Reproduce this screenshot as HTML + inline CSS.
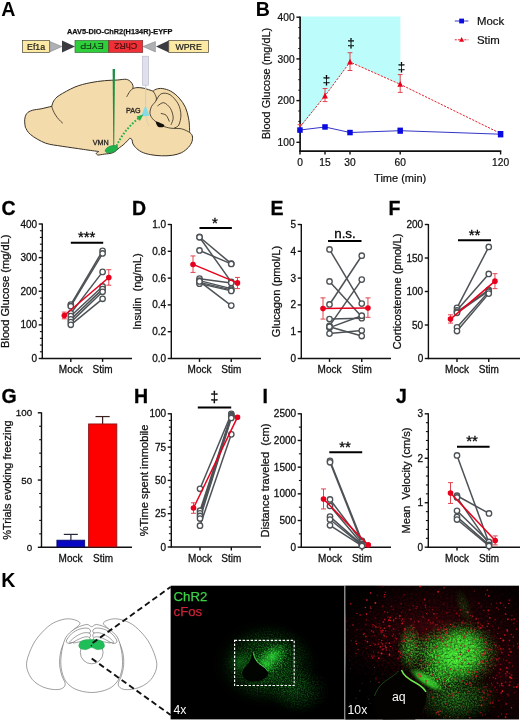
<!DOCTYPE html>
<html><head><meta charset="utf-8"><title>Figure</title>
<style>html,body{margin:0;padding:0;background:#fff}svg{display:block;opacity:0.999}</style>
</head><body>
<svg width="520" height="721" viewBox="0 0 520 721" font-family="'Liberation Sans', Arial, sans-serif">
<rect width="520" height="721" fill="#fff"/>
<g id="A">
<text x="1.3" y="16.3" font-size="19.6" font-weight="bold" fill="#000">A</text>
<text x="67" y="33.6" font-size="7.7" font-weight="bold" fill="#111" stroke="#111" stroke-width="0.25" textLength="105.5" lengthAdjust="spacingAndGlyphs">AAV5-DIO-ChR2(H134R)-EYFP</text>
<!-- construct -->
<rect x="22.6" y="40.6" width="27" height="11.8" fill="#fce9a4" stroke="#4a4536" stroke-width="0.7"/>
<text x="36.1" y="49.6" font-size="8.8" fill="#1a1a1a" stroke="#1a1a1a" stroke-width="0.2" text-anchor="middle">Ef1a</text>
<path d="M49.8 41.5 L61.9 46.5 L49.8 51.9z" fill="#aeb0b3" stroke="#77797c" stroke-width="0.5"/>
<path d="M62 40.4 L75 46.5 L62 52.6z" fill="#3a3a40"/>
<rect x="75" y="40.6" width="33.8" height="11.8" fill="#2ecf3b" stroke="#2a6a2e" stroke-width="0.7"/>
<text transform="translate(91.9,46.5) rotate(180)" x="0" y="3.2" font-size="9" fill="#123d16" stroke="#123d16" stroke-width="0.2" text-anchor="middle">EYFP</text>
<rect x="108.8" y="40.6" width="33.9" height="11.8" fill="#ef3036" stroke="#7a2a2a" stroke-width="0.7"/>
<text transform="translate(125.7,46.5) rotate(180)" x="0" y="3.2" font-size="9" fill="#4c1010" stroke="#4c1010" stroke-width="0.2" text-anchor="middle">ChR2</text>
<path d="M155.4 41.5 L143 46.5 L155.4 51.9z" fill="#aeb0b3" stroke="#77797c" stroke-width="0.5"/>
<path d="M168.8 40.4 L156 46.5 L168.8 52.6z" fill="#3a3a40"/>
<rect x="168.8" y="40.6" width="39.7" height="11.8" fill="#fce9a4" stroke="#4a4536" stroke-width="0.7"/>
<text x="188.6" y="49.6" font-size="8.8" fill="#1a1a1a" stroke="#1a1a1a" stroke-width="0.2" text-anchor="middle">WPRE</text>
<!-- brain -->
<path id="brainpath" d="M25.3 127.2 C25.2 126.0 24.4 122.1 24.7 119.8 C24.9 117.5 25.5 115.1 26.8 113.5 C28.0 111.9 29.9 111.1 32.3 110.3 C34.7 109.5 37.9 109.5 41.2 108.8 C44.4 108.1 50.0 106.7 51.7 106.3 C52.1 105.4 52.6 102.6 53.8 100.8 C55.1 99.0 55.6 97.8 59.1 95.5 C62.7 93.2 69.9 89.1 75.0 87.0 C80.1 84.9 84.9 83.8 89.8 82.8 C94.7 81.7 100.0 81.1 104.6 80.7 C109.2 80.2 113.7 80.3 117.3 80.0 C120.9 79.8 123.9 79.0 126.2 79.3 C128.4 79.6 129.6 80.9 130.8 81.9 C131.9 82.9 132.6 84.4 132.9 85.5 C133.3 86.6 132.9 88.0 132.9 88.5 C133.6 88.4 135.2 87.7 136.9 87.6 C138.6 87.5 140.9 87.7 143.1 88.1 C145.3 88.5 148.3 89.6 150.0 90.1 C151.7 90.6 152.6 91.0 153.1 91.2 C153.6 90.8 154.6 89.6 156.2 89.2 C157.7 88.7 159.9 88.2 162.3 88.5 C164.7 88.9 167.9 89.6 170.8 91.2 C173.6 92.7 176.8 95.4 179.2 98.1 C181.7 100.8 183.8 104.0 185.4 107.3 C186.9 110.6 187.8 114.7 188.5 118.1 C189.2 121.4 189.4 124.9 189.5 127.3 C189.7 129.7 189.5 131.4 189.5 132.2 C190.0 132.8 191.9 134.2 192.3 135.8 C192.7 137.3 192.6 139.5 192.0 141.5 C191.4 143.4 190.2 145.4 188.5 147.3 C186.7 149.2 184.2 151.4 181.5 152.7 C178.8 154.0 175.6 154.8 172.3 155.3 C169.0 155.8 165.1 155.9 161.5 155.8 C157.9 155.7 154.1 155.3 150.8 154.7 C147.4 154.1 144.1 153.2 141.5 151.9 C139.0 150.7 136.9 148.8 135.4 147.3 C133.9 145.8 133.2 144.3 132.6 143.0 C132.1 141.7 132.5 140.4 132.0 139.6 C131.5 138.8 130.2 138.3 129.8 138.1 C129.4 138.5 128.5 139.7 127.4 140.8 C126.3 142.0 124.4 143.9 123.1 145.0 C121.8 146.1 121.1 146.5 119.4 147.7 C117.8 149.0 115.6 151.5 113.1 152.6 C110.6 153.7 107.2 153.7 104.6 154.1 C102.1 154.5 99.0 155.0 97.9 155.1 C97.6 154.9 96.0 154.0 96.2 153.4 C96.3 152.8 98.3 151.9 98.7 151.5 C96.2 151.2 89.5 150.3 83.5 149.4 C77.4 148.5 68.7 147.3 62.3 146.3 C56.0 145.2 50.7 145.0 45.4 143.1 C40.1 141.1 33.9 137.3 30.6 134.6 C27.2 132.0 26.2 128.5 25.3 127.2Z" fill="#f3dbab" stroke="#3a3226" stroke-width="1" stroke-linejoin="round"/>
<g fill="none" stroke="#3a3226" stroke-width="0.85" stroke-linecap="round">
<path d="M51.7 106.3 C53 112 57 118.5 62.5 123"/>
<path d="M153.1 91.2 C153.5 91.9 155.2 94.2 155.7 95.8 C156.2 97.3 156.8 98.6 156.2 100.4 C155.5 102.2 152.6 104.4 151.5 106.5 C150.5 108.7 149.8 111.4 150.0 113.5 C150.2 115.5 151.5 117.4 152.6 118.8 C153.8 120.3 156.2 121.8 156.9 122.4"/>
<path d="M156.2 100.4 C157.0 99.3 158.9 94.7 161.2 93.8 C163.5 92.8 167.2 93.0 170.0 94.7 C172.8 96.4 176.3 100.5 178.2 103.9 C180.0 107.3 180.8 111.5 180.9 115.0 C181.0 118.5 179.9 122.8 178.8 125.0 C177.6 127.2 174.9 127.6 174.2 128.1"/>
<path d="M157.8 105.8 C158.8 105.3 161.7 102.2 163.8 102.7 C165.9 103.2 168.9 106.0 170.5 108.5 C172.0 111.1 173.1 115.1 173.2 117.8 C173.3 120.4 171.4 123.4 171.1 124.5"/>
<path d="M161.2 113.5 C162.1 113.8 164.8 114.0 166.2 115.3 C167.5 116.6 168.7 120.2 169.2 121.2"/>
<path d="M163.8 126.5 C165.0 126.8 167.8 127.8 170.8 128.2 C173.7 128.6 178.4 128.2 181.5 128.8 C184.7 129.5 188.2 131.7 189.5 132.2"/>
<path d="M132.9 88.5 C132.4 89.0 131.0 89.8 130.0 91.2 C129.0 92.5 127.4 95.6 126.9 96.5"/>
</g>
<path d="M155.8 121.6 C156.3 121.1 158.9 122.4 160.3 123.0 C161.7 123.6 163.9 124.4 164.3 125.2 C164.7 125.9 163.5 127.1 162.5 127.3 C161.4 127.5 158.9 127.3 157.8 126.4 C156.7 125.4 155.4 122.2 155.8 121.6Z" fill="#14110d"/>
<!-- optic fibre -->
<rect x="142.6" y="56.2" width="6" height="29" fill="#dfe0ec" stroke="#b4b5c6" stroke-width="0.6"/>
<path d="M145.6 85.2 V105" stroke="#c9cbd8" stroke-width="1.1" fill="none"/>
<path d="M146.2 116.2 C146.3 117.1 146.5 119.5 146.9 121.2 C147.4 122.8 148.6 125.3 148.9 126.1" stroke="#d5c8ae" stroke-width="0.7" fill="none"/>
<path d="M145.5 105.2 L149.4 115.5 C147 116.4 144 116.4 141.5 115.6 Z" fill="#84dbe6"/>
<!-- needle -->
<path d="M112.6 69 H115 L114.2 146 H113.3 Z" fill="#1d8e45"/>
<!-- VMN -->
<ellipse cx="111.5" cy="149.2" rx="6.6" ry="3.3" transform="rotate(-18 111.5 149.2)" fill="#20b24b" stroke="#14803a" stroke-width="0.5"/>
<path d="M116.5 146 C122 134 130 125 139.5 117.5" fill="none" stroke="#22b04a" stroke-width="2" stroke-dasharray="1.7 1.7"/>
<path d="M143.4 114.6 L139.9 121 L136.6 116.4 Z" fill="#22b04a"/>
<text x="125.9" y="113.3" font-size="7.2" fill="#2a2622" stroke="#2a2622" stroke-width="0.3">PAG</text>
<text x="92.8" y="145" font-size="7.2" fill="#2a2622" stroke="#2a2622" stroke-width="0.3">VMN</text>
</g>

<g id="B">
<text x="255.8" y="16" font-size="19.6" font-weight="bold" fill="#000">B</text>
<!-- cyan stimulation window -->
<polygon points="300.6,16.5 400.4,16.5 400.4,84 350,61.8 325,95.6 300.6,127.5" fill="#bcfcfb"/>
<!-- axes -->
<line x1="300.1" y1="16.5" x2="300.1" y2="152" stroke="#111" stroke-width="1.7"/>
<line x1="299.3" y1="151.2" x2="501.3" y2="151.2" stroke="#111" stroke-width="1.7"/>
<g stroke="#111" stroke-width="1.4">
<line x1="296.4" y1="17.2" x2="300" y2="17.2"/><line x1="296.4" y1="58.9" x2="300" y2="58.9"/>
<line x1="296.4" y1="100.6" x2="300" y2="100.6"/><line x1="296.4" y1="142.3" x2="300" y2="142.3"/>
<g stroke-width="0.9"><line x1="298.2" y1="27.6" x2="300" y2="27.6"/><line x1="298.2" y1="38" x2="300" y2="38"/><line x1="298.2" y1="48.5" x2="300" y2="48.5"/><line x1="298.2" y1="69.3" x2="300" y2="69.3"/><line x1="298.2" y1="79.7" x2="300" y2="79.7"/><line x1="298.2" y1="90.2" x2="300" y2="90.2"/><line x1="298.2" y1="111" x2="300" y2="111"/><line x1="298.2" y1="121.4" x2="300" y2="121.4"/><line x1="298.2" y1="131.9" x2="300" y2="131.9"/></g>
<line x1="300" y1="151.4" x2="300" y2="154.5"/><line x1="325" y1="151.4" x2="325" y2="154.5"/>
<line x1="350" y1="151.4" x2="350" y2="154.5"/><line x1="400.2" y1="151.4" x2="400.2" y2="154.5"/>
<line x1="500.6" y1="151.4" x2="500.6" y2="154.5"/>
</g>
<g font-size="10.2" fill="#111" stroke="#111" stroke-width="0.22" text-anchor="end">
<text x="294.6" y="20.9">400</text><text x="294.6" y="62.6">300</text><text x="294.6" y="104.3">200</text><text x="294.6" y="146">100</text>
</g>
<g font-size="10.2" fill="#111" stroke="#111" stroke-width="0.22" text-anchor="middle">
<text x="300" y="166">0</text><text x="325" y="166">15</text><text x="350" y="166">30</text><text x="400.2" y="166">60</text><text x="500.6" y="166">120</text>
</g>
<text x="400.2" y="181.6" font-size="11" fill="#111" stroke="#111" stroke-width="0.22" text-anchor="middle">Time (min)</text>
<text transform="translate(270,83.5) rotate(-90)" font-size="10.9" fill="#111" stroke="#111" stroke-width="0.22" text-anchor="middle">Blood Glucose (mg/dL)</text>
<!-- stim series -->
<polyline points="300,126.8 325,95.9 350,62 400.2,84.3 500.6,133.5" fill="none" stroke="#e0202a" stroke-width="1" stroke-dasharray="2.2 1.3"/>
<g stroke="#e0444f" stroke-width="1">
<line x1="300" y1="124.7" x2="300" y2="130"/><line x1="297.6" y1="124.7" x2="302.4" y2="124.7"/>
<line x1="325" y1="88.5" x2="325" y2="101.6"/><line x1="322.6" y1="88.5" x2="327.4" y2="88.5"/><line x1="322.6" y1="101.6" x2="327.4" y2="101.6"/>
<line x1="350" y1="52.7" x2="350" y2="70.5"/><line x1="347.6" y1="52.7" x2="352.4" y2="52.7"/><line x1="347.6" y1="70.5" x2="352.4" y2="70.5"/>
<line x1="400.2" y1="74.6" x2="400.2" y2="92.4"/><line x1="397.8" y1="74.6" x2="402.6" y2="74.6"/><line x1="397.8" y1="92.4" x2="402.6" y2="92.4"/>
</g>
<g fill="#e8001c">
<path d="M325 92.6 l2.9 5.8 h-5.8z"/><path d="M350 58.7 l2.9 5.8 h-5.8z"/><path d="M400.2 81 l2.9 5.8 h-5.8z"/>
</g>
<!-- mock series -->
<polyline points="300,130 325,127 350,132.5 400.2,130.7 500.6,134.2" fill="none" stroke="#3535c8" stroke-width="1"/>
<g fill="#0b0be0">
<rect x="297.2" y="127.3" width="5.5" height="5.5"/><rect x="322.25" y="124.2" width="5.5" height="5.5"/>
<rect x="347.25" y="129.8" width="5.5" height="5.5"/><rect x="397.45" y="127.6" width="5.5" height="6.2"/>
<rect x="497.85" y="131" width="5.5" height="6.4"/>
</g>
<!-- daggers -->
<g font-size="13.5" fill="#000" stroke="#000" stroke-width="0.2" text-anchor="middle">
<text x="326.6" y="83.6">‡</text><text x="351" y="47.4">‡</text><text x="401.6" y="70.5">‡</text>
</g>
<!-- legend -->
<line x1="454.8" y1="21" x2="468.4" y2="21" stroke="#3535c8" stroke-width="1"/>
<rect x="459.2" y="18.6" width="4.8" height="4.8" fill="#0b0be0"/>
<text x="477" y="25" font-size="11.4" fill="#111" stroke="#111" stroke-width="0.22">Mock</text>
<line x1="454.8" y1="39.8" x2="468.4" y2="39.8" stroke="#e0202a" stroke-width="1" stroke-dasharray="2 1.2"/>
<path d="M461.6 37 l2.5 4.8 h-5z" fill="#e8001c"/>
<text x="477" y="43.8" font-size="11.4" fill="#111" stroke="#111" stroke-width="0.22">Stim</text>
</g>

<g id="C">
<text x="1.5" y="214.5" font-size="19.5" text-anchor="start" font-weight="bold" fill="#000" stroke="#000" stroke-width="0.28" >C</text>
<line x1="42.3" y1="223.5" x2="42.3" y2="359.1" stroke="#111" stroke-width="1.4" />
<line x1="41.699999999999996" y1="358.5" x2="132" y2="358.5" stroke="#111" stroke-width="1.4" />
<line x1="38.699999999999996" y1="358.5" x2="42.3" y2="358.5" stroke="#111" stroke-width="1.4" />
<text x="37.099999999999994" y="362.0" font-size="10" text-anchor="end" font-weight="normal" fill="#111" stroke="#111" stroke-width="0.28" >0</text>
<line x1="38.699999999999996" y1="324.875" x2="42.3" y2="324.875" stroke="#111" stroke-width="1.4" />
<text x="37.099999999999994" y="328.375" font-size="10" text-anchor="end" font-weight="normal" fill="#111" stroke="#111" stroke-width="0.28" >100</text>
<line x1="38.699999999999996" y1="291.25" x2="42.3" y2="291.25" stroke="#111" stroke-width="1.4" />
<text x="37.099999999999994" y="294.75" font-size="10" text-anchor="end" font-weight="normal" fill="#111" stroke="#111" stroke-width="0.28" >200</text>
<line x1="38.699999999999996" y1="257.625" x2="42.3" y2="257.625" stroke="#111" stroke-width="1.4" />
<text x="37.099999999999994" y="261.125" font-size="10" text-anchor="end" font-weight="normal" fill="#111" stroke="#111" stroke-width="0.28" >300</text>
<line x1="38.699999999999996" y1="224.0" x2="42.3" y2="224.0" stroke="#111" stroke-width="1.4" />
<text x="37.099999999999994" y="227.5" font-size="10" text-anchor="end" font-weight="normal" fill="#111" stroke="#111" stroke-width="0.28" >400</text>
<line x1="39.9" y1="351.775" x2="42.3" y2="351.775" stroke="#111" stroke-width="1.1" />
<line x1="39.9" y1="345.05" x2="42.3" y2="345.05" stroke="#111" stroke-width="1.1" />
<line x1="39.9" y1="338.325" x2="42.3" y2="338.325" stroke="#111" stroke-width="1.1" />
<line x1="39.9" y1="331.6" x2="42.3" y2="331.6" stroke="#111" stroke-width="1.1" />
<line x1="39.9" y1="318.15" x2="42.3" y2="318.15" stroke="#111" stroke-width="1.1" />
<line x1="39.9" y1="311.425" x2="42.3" y2="311.425" stroke="#111" stroke-width="1.1" />
<line x1="39.9" y1="304.7" x2="42.3" y2="304.7" stroke="#111" stroke-width="1.1" />
<line x1="39.9" y1="297.975" x2="42.3" y2="297.975" stroke="#111" stroke-width="1.1" />
<line x1="39.9" y1="284.525" x2="42.3" y2="284.525" stroke="#111" stroke-width="1.1" />
<line x1="39.9" y1="277.8" x2="42.3" y2="277.8" stroke="#111" stroke-width="1.1" />
<line x1="39.9" y1="271.075" x2="42.3" y2="271.075" stroke="#111" stroke-width="1.1" />
<line x1="39.9" y1="264.35" x2="42.3" y2="264.35" stroke="#111" stroke-width="1.1" />
<line x1="39.9" y1="250.89999999999998" x2="42.3" y2="250.89999999999998" stroke="#111" stroke-width="1.1" />
<line x1="39.9" y1="244.175" x2="42.3" y2="244.175" stroke="#111" stroke-width="1.1" />
<line x1="39.9" y1="237.45" x2="42.3" y2="237.45" stroke="#111" stroke-width="1.1" />
<line x1="39.9" y1="230.72500000000002" x2="42.3" y2="230.72500000000002" stroke="#111" stroke-width="1.1" />
<line x1="70.8" y1="358.5" x2="70.8" y2="361.9" stroke="#111" stroke-width="1.4" />
<line x1="102.6" y1="358.5" x2="102.6" y2="361.9" stroke="#111" stroke-width="1.4" />
<text x="70.8" y="373.0" font-size="10" text-anchor="middle" font-weight="normal" fill="#111" stroke="#111" stroke-width="0.28" >Mock</text>
<text x="102.6" y="373.0" font-size="10" text-anchor="middle" font-weight="normal" fill="#111" stroke="#111" stroke-width="0.28" >Stim</text>
<text transform="translate(9.4,291.25) rotate(-90)" font-size="11.1" text-anchor="middle" fill="#111" stroke="#111" stroke-width="0.28" >Blood Glucose (mg/dL)</text>
<line x1="70.8" y1="304.599125" x2="102.6" y2="250.7655" stroke="#4d5256" stroke-width="1.5" />
<line x1="70.8" y1="306.213125" x2="102.6" y2="253.45550000000003" stroke="#4d5256" stroke-width="1.5" />
<line x1="70.8" y1="313.341625" x2="102.6" y2="271.882" stroke="#4d5256" stroke-width="1.5" />
<line x1="70.8" y1="316.031625" x2="102.6" y2="286.441625" stroke="#4d5256" stroke-width="1.5" />
<line x1="70.8" y1="319.394125" x2="102.6" y2="289.131625" stroke="#4d5256" stroke-width="1.5" />
<line x1="70.8" y1="322.084125" x2="102.6" y2="291.821625" stroke="#4d5256" stroke-width="1.5" />
<line x1="70.8" y1="324.80775" x2="102.6" y2="298.815625" stroke="#4d5256" stroke-width="1.5" />
<circle cx="70.8" cy="304.60" r="2.7" fill="#fff" stroke="#4d5256" stroke-width="1.35"/>
<circle cx="102.6" cy="250.77" r="2.7" fill="#fff" stroke="#4d5256" stroke-width="1.35"/>
<circle cx="70.8" cy="306.21" r="2.7" fill="#fff" stroke="#4d5256" stroke-width="1.35"/>
<circle cx="102.6" cy="253.46" r="2.7" fill="#fff" stroke="#4d5256" stroke-width="1.35"/>
<circle cx="70.8" cy="313.34" r="2.7" fill="#fff" stroke="#4d5256" stroke-width="1.35"/>
<circle cx="102.6" cy="271.88" r="2.7" fill="#fff" stroke="#4d5256" stroke-width="1.35"/>
<circle cx="70.8" cy="316.03" r="2.7" fill="#fff" stroke="#4d5256" stroke-width="1.35"/>
<circle cx="102.6" cy="286.44" r="2.7" fill="#fff" stroke="#4d5256" stroke-width="1.35"/>
<circle cx="70.8" cy="319.39" r="2.7" fill="#fff" stroke="#4d5256" stroke-width="1.35"/>
<circle cx="102.6" cy="289.13" r="2.7" fill="#fff" stroke="#4d5256" stroke-width="1.35"/>
<circle cx="70.8" cy="322.08" r="2.7" fill="#fff" stroke="#4d5256" stroke-width="1.35"/>
<circle cx="102.6" cy="291.82" r="2.7" fill="#fff" stroke="#4d5256" stroke-width="1.35"/>
<circle cx="70.8" cy="324.81" r="2.7" fill="#fff" stroke="#4d5256" stroke-width="1.35"/>
<circle cx="102.6" cy="298.82" r="2.7" fill="#fff" stroke="#4d5256" stroke-width="1.35"/>
<line x1="64.3" y1="315.46" x2="108.8" y2="277.46375" stroke="#e8001c" stroke-width="1.5" />
<line x1="64.3" y1="318.8225" x2="64.3" y2="312.0975" stroke="#e0444f" stroke-width="1" />
<line x1="61.8" y1="318.8225" x2="66.8" y2="318.8225" stroke="#e0444f" stroke-width="1" />
<line x1="61.8" y1="312.0975" x2="66.8" y2="312.0975" stroke="#e0444f" stroke-width="1" />
<circle cx="64.3" cy="315.46" r="2.8" fill="#e8001c"/>
<line x1="108.8" y1="285.1975" x2="108.8" y2="269.73" stroke="#e0444f" stroke-width="1" />
<line x1="106.3" y1="285.1975" x2="111.3" y2="285.1975" stroke="#e0444f" stroke-width="1" />
<line x1="106.3" y1="269.73" x2="111.3" y2="269.73" stroke="#e0444f" stroke-width="1" />
<circle cx="108.8" cy="277.46" r="2.8" fill="#e8001c"/>
<line x1="70.8" y1="242.7" x2="103.19999999999999" y2="242.7" stroke="#000" stroke-width="1.9" />
<text x="86.69999999999999" y="242.2" font-size="15" text-anchor="middle" font-weight="normal" fill="#000" stroke="#000" stroke-width="0.28" >***</text>
</g>
<g id="D">
<text x="132" y="214.5" font-size="19.5" text-anchor="start" font-weight="bold" fill="#000" stroke="#000" stroke-width="0.28" >D</text>
<line x1="171.3" y1="224.0" x2="171.3" y2="359.1" stroke="#111" stroke-width="1.4" />
<line x1="170.70000000000002" y1="358.5" x2="261" y2="358.5" stroke="#111" stroke-width="1.4" />
<line x1="167.70000000000002" y1="358.5" x2="171.3" y2="358.5" stroke="#111" stroke-width="1.4" />
<text x="166.10000000000002" y="362.0" font-size="10" text-anchor="end" font-weight="normal" fill="#111" stroke="#111" stroke-width="0.28" >0.0</text>
<line x1="167.70000000000002" y1="331.7" x2="171.3" y2="331.7" stroke="#111" stroke-width="1.4" />
<text x="166.10000000000002" y="335.2" font-size="10" text-anchor="end" font-weight="normal" fill="#111" stroke="#111" stroke-width="0.28" >0.2</text>
<line x1="167.70000000000002" y1="304.9" x2="171.3" y2="304.9" stroke="#111" stroke-width="1.4" />
<text x="166.10000000000002" y="308.4" font-size="10" text-anchor="end" font-weight="normal" fill="#111" stroke="#111" stroke-width="0.28" >0.4</text>
<line x1="167.70000000000002" y1="278.1" x2="171.3" y2="278.1" stroke="#111" stroke-width="1.4" />
<text x="166.10000000000002" y="281.6" font-size="10" text-anchor="end" font-weight="normal" fill="#111" stroke="#111" stroke-width="0.28" >0.6</text>
<line x1="167.70000000000002" y1="251.3" x2="171.3" y2="251.3" stroke="#111" stroke-width="1.4" />
<text x="166.10000000000002" y="254.8" font-size="10" text-anchor="end" font-weight="normal" fill="#111" stroke="#111" stroke-width="0.28" >0.8</text>
<line x1="167.70000000000002" y1="224.5" x2="171.3" y2="224.5" stroke="#111" stroke-width="1.4" />
<text x="166.10000000000002" y="228.0" font-size="10" text-anchor="end" font-weight="normal" fill="#111" stroke="#111" stroke-width="0.28" >1.0</text>
<line x1="199.5" y1="358.5" x2="199.5" y2="361.9" stroke="#111" stroke-width="1.4" />
<line x1="231.25" y1="358.5" x2="231.25" y2="361.9" stroke="#111" stroke-width="1.4" />
<text x="199.5" y="373.0" font-size="10" text-anchor="middle" font-weight="normal" fill="#111" stroke="#111" stroke-width="0.28" >Mock</text>
<text x="231.25" y="373.0" font-size="10" text-anchor="middle" font-weight="normal" fill="#111" stroke="#111" stroke-width="0.28" >Stim</text>
<text transform="translate(140.5,291.5) rotate(-90)" font-size="11.1" text-anchor="middle" fill="#111" stroke="#111" stroke-width="0.28" >Insulin  (ng/mL)</text>
<line x1="199.5" y1="236.97672253258844" x2="231.25" y2="263.67690875232773" stroke="#4d5256" stroke-width="1.5" />
<line x1="199.5" y1="237.2761638733706" x2="231.25" y2="281.8929236499069" stroke="#4d5256" stroke-width="1.5" />
<line x1="199.5" y1="250.451582867784" x2="231.25" y2="263.9264432029795" stroke="#4d5256" stroke-width="1.5" />
<line x1="199.5" y1="278.6489757914339" x2="231.25" y2="282.89106145251395" stroke="#4d5256" stroke-width="1.5" />
<line x1="199.5" y1="280.64525139664806" x2="231.25" y2="288.63035381750467" stroke="#4d5256" stroke-width="1.5" />
<line x1="199.5" y1="282.3919925512104" x2="231.25" y2="289.8780260707635" stroke="#4d5256" stroke-width="1.5" />
<line x1="199.5" y1="283.63966480446925" x2="231.25" y2="290.8761638733706" stroke="#4d5256" stroke-width="1.5" />
<line x1="199.5" y1="281.39385474860336" x2="231.25" y2="305.59869646182494" stroke="#4d5256" stroke-width="1.5" />
<circle cx="199.5" cy="236.98" r="2.7" fill="#fff" stroke="#4d5256" stroke-width="1.35"/>
<circle cx="231.25" cy="263.68" r="2.7" fill="#fff" stroke="#4d5256" stroke-width="1.35"/>
<circle cx="199.5" cy="237.28" r="2.7" fill="#fff" stroke="#4d5256" stroke-width="1.35"/>
<circle cx="231.25" cy="281.89" r="2.7" fill="#fff" stroke="#4d5256" stroke-width="1.35"/>
<circle cx="199.5" cy="250.45" r="2.7" fill="#fff" stroke="#4d5256" stroke-width="1.35"/>
<circle cx="231.25" cy="263.93" r="2.7" fill="#fff" stroke="#4d5256" stroke-width="1.35"/>
<circle cx="199.5" cy="278.65" r="2.7" fill="#fff" stroke="#4d5256" stroke-width="1.35"/>
<circle cx="231.25" cy="282.89" r="2.7" fill="#fff" stroke="#4d5256" stroke-width="1.35"/>
<circle cx="199.5" cy="280.65" r="2.7" fill="#fff" stroke="#4d5256" stroke-width="1.35"/>
<circle cx="231.25" cy="288.63" r="2.7" fill="#fff" stroke="#4d5256" stroke-width="1.35"/>
<circle cx="199.5" cy="282.39" r="2.7" fill="#fff" stroke="#4d5256" stroke-width="1.35"/>
<circle cx="231.25" cy="289.88" r="2.7" fill="#fff" stroke="#4d5256" stroke-width="1.35"/>
<circle cx="199.5" cy="283.64" r="2.7" fill="#fff" stroke="#4d5256" stroke-width="1.35"/>
<circle cx="231.25" cy="290.88" r="2.7" fill="#fff" stroke="#4d5256" stroke-width="1.35"/>
<circle cx="199.5" cy="281.39" r="2.7" fill="#fff" stroke="#4d5256" stroke-width="1.35"/>
<circle cx="231.25" cy="305.60" r="2.7" fill="#fff" stroke="#4d5256" stroke-width="1.35"/>
<line x1="193.0" y1="264.42551210428303" x2="237.45" y2="282.89106145251395" stroke="#e8001c" stroke-width="1.5" />
<line x1="193.0" y1="272.41061452513964" x2="193.0" y2="255.9413407821229" stroke="#e0444f" stroke-width="1" />
<line x1="190.5" y1="272.41061452513964" x2="195.5" y2="272.41061452513964" stroke="#e0444f" stroke-width="1" />
<line x1="190.5" y1="255.9413407821229" x2="195.5" y2="255.9413407821229" stroke="#e0444f" stroke-width="1" />
<circle cx="193.0" cy="264.43" r="2.8" fill="#e8001c"/>
<line x1="237.45" y1="288.63035381750467" x2="237.45" y2="277.40130353817506" stroke="#e0444f" stroke-width="1" />
<line x1="234.95" y1="288.63035381750467" x2="239.95" y2="288.63035381750467" stroke="#e0444f" stroke-width="1" />
<line x1="234.95" y1="277.40130353817506" x2="239.95" y2="277.40130353817506" stroke="#e0444f" stroke-width="1" />
<circle cx="237.45" cy="282.89" r="2.8" fill="#e8001c"/>
<line x1="199.5" y1="228" x2="231.85" y2="228" stroke="#000" stroke-width="1.9" />
<text x="214.9" y="228.4" font-size="15" text-anchor="middle" font-weight="normal" fill="#000" stroke="#000" stroke-width="0.28" >*</text>
</g>
<g id="E">
<text x="270.5" y="214.5" font-size="19.5" text-anchor="start" font-weight="bold" fill="#000" stroke="#000" stroke-width="0.28" >E</text>
<line x1="301.3" y1="224.0" x2="301.3" y2="359.1" stroke="#111" stroke-width="1.4" />
<line x1="300.7" y1="358.5" x2="391" y2="358.5" stroke="#111" stroke-width="1.4" />
<line x1="297.7" y1="358.5" x2="301.3" y2="358.5" stroke="#111" stroke-width="1.4" />
<text x="296.1" y="362.0" font-size="10" text-anchor="end" font-weight="normal" fill="#111" stroke="#111" stroke-width="0.28" >0</text>
<line x1="297.7" y1="331.7" x2="301.3" y2="331.7" stroke="#111" stroke-width="1.4" />
<text x="296.1" y="335.2" font-size="10" text-anchor="end" font-weight="normal" fill="#111" stroke="#111" stroke-width="0.28" >1</text>
<line x1="297.7" y1="304.9" x2="301.3" y2="304.9" stroke="#111" stroke-width="1.4" />
<text x="296.1" y="308.4" font-size="10" text-anchor="end" font-weight="normal" fill="#111" stroke="#111" stroke-width="0.28" >2</text>
<line x1="297.7" y1="278.1" x2="301.3" y2="278.1" stroke="#111" stroke-width="1.4" />
<text x="296.1" y="281.6" font-size="10" text-anchor="end" font-weight="normal" fill="#111" stroke="#111" stroke-width="0.28" >3</text>
<line x1="297.7" y1="251.3" x2="301.3" y2="251.3" stroke="#111" stroke-width="1.4" />
<text x="296.1" y="254.8" font-size="10" text-anchor="end" font-weight="normal" fill="#111" stroke="#111" stroke-width="0.28" >4</text>
<line x1="297.7" y1="224.5" x2="301.3" y2="224.5" stroke="#111" stroke-width="1.4" />
<text x="296.1" y="228.0" font-size="10" text-anchor="end" font-weight="normal" fill="#111" stroke="#111" stroke-width="0.28" >5</text>
<line x1="329.5" y1="358.5" x2="329.5" y2="361.9" stroke="#111" stroke-width="1.4" />
<line x1="361.75" y1="358.5" x2="361.75" y2="361.9" stroke="#111" stroke-width="1.4" />
<text x="329.5" y="373.0" font-size="10" text-anchor="middle" font-weight="normal" fill="#111" stroke="#111" stroke-width="0.28" >Mock</text>
<text x="361.75" y="373.0" font-size="10" text-anchor="middle" font-weight="normal" fill="#111" stroke="#111" stroke-width="0.28" >Stim</text>
<text transform="translate(279.8,291.5) rotate(-90)" font-size="11.1" text-anchor="middle" fill="#111" stroke="#111" stroke-width="0.28" >Glucagon (pmol/L)</text>
<line x1="329.5" y1="249.45080000000002" x2="361.75" y2="303.6136" stroke="#4d5256" stroke-width="1.5" />
<line x1="329.5" y1="281.4768" x2="361.75" y2="316.8528" stroke="#4d5256" stroke-width="1.5" />
<line x1="329.5" y1="304.4712" x2="361.75" y2="255.72199999999998" stroke="#4d5256" stroke-width="1.5" />
<line x1="329.5" y1="325.8844" x2="361.75" y2="279.6008" stroke="#4d5256" stroke-width="1.5" />
<line x1="329.5" y1="319.0504" x2="361.75" y2="318.166" stroke="#4d5256" stroke-width="1.5" />
<line x1="329.5" y1="327.6264" x2="361.75" y2="315.7004" stroke="#4d5256" stroke-width="1.5" />
<line x1="329.5" y1="326.742" x2="361.75" y2="336.0684" stroke="#4d5256" stroke-width="1.5" />
<line x1="329.5" y1="333.6028" x2="361.75" y2="330.5476" stroke="#4d5256" stroke-width="1.5" />
<circle cx="329.5" cy="249.45" r="2.7" fill="#fff" stroke="#4d5256" stroke-width="1.35"/>
<circle cx="361.75" cy="303.61" r="2.7" fill="#fff" stroke="#4d5256" stroke-width="1.35"/>
<circle cx="329.5" cy="281.48" r="2.7" fill="#fff" stroke="#4d5256" stroke-width="1.35"/>
<circle cx="361.75" cy="316.85" r="2.7" fill="#fff" stroke="#4d5256" stroke-width="1.35"/>
<circle cx="329.5" cy="304.47" r="2.7" fill="#fff" stroke="#4d5256" stroke-width="1.35"/>
<circle cx="361.75" cy="255.72" r="2.7" fill="#fff" stroke="#4d5256" stroke-width="1.35"/>
<circle cx="329.5" cy="325.88" r="2.7" fill="#fff" stroke="#4d5256" stroke-width="1.35"/>
<circle cx="361.75" cy="279.60" r="2.7" fill="#fff" stroke="#4d5256" stroke-width="1.35"/>
<circle cx="329.5" cy="319.05" r="2.7" fill="#fff" stroke="#4d5256" stroke-width="1.35"/>
<circle cx="361.75" cy="318.17" r="2.7" fill="#fff" stroke="#4d5256" stroke-width="1.35"/>
<circle cx="329.5" cy="327.63" r="2.7" fill="#fff" stroke="#4d5256" stroke-width="1.35"/>
<circle cx="361.75" cy="315.70" r="2.7" fill="#fff" stroke="#4d5256" stroke-width="1.35"/>
<circle cx="329.5" cy="326.74" r="2.7" fill="#fff" stroke="#4d5256" stroke-width="1.35"/>
<circle cx="361.75" cy="336.07" r="2.7" fill="#fff" stroke="#4d5256" stroke-width="1.35"/>
<circle cx="329.5" cy="333.60" r="2.7" fill="#fff" stroke="#4d5256" stroke-width="1.35"/>
<circle cx="361.75" cy="330.55" r="2.7" fill="#fff" stroke="#4d5256" stroke-width="1.35"/>
<line x1="323.0" y1="308.5931098696462" x2="367.95" y2="308.09404096834265" stroke="#e8001c" stroke-width="1.5" />
<line x1="323.0" y1="319.0735567970205" x2="323.0" y2="297.8631284916201" stroke="#e0444f" stroke-width="1" />
<line x1="320.5" y1="319.0735567970205" x2="325.5" y2="319.0735567970205" stroke="#e0444f" stroke-width="1" />
<line x1="320.5" y1="297.8631284916201" x2="325.5" y2="297.8631284916201" stroke="#e0444f" stroke-width="1" />
<circle cx="323.0" cy="308.59" r="2.8" fill="#e8001c"/>
<line x1="367.95" y1="317.3268156424581" x2="367.95" y2="297.8631284916201" stroke="#e0444f" stroke-width="1" />
<line x1="365.45" y1="317.3268156424581" x2="370.45" y2="317.3268156424581" stroke="#e0444f" stroke-width="1" />
<line x1="365.45" y1="297.8631284916201" x2="370.45" y2="297.8631284916201" stroke="#e0444f" stroke-width="1" />
<circle cx="367.95" cy="308.09" r="2.8" fill="#e8001c"/>
<line x1="328" y1="241" x2="361.5" y2="241" stroke="#000" stroke-width="1.9" />
<text x="345" y="238" font-size="13.4" text-anchor="middle" font-weight="normal" fill="#000" stroke="#000" stroke-width="0.28" >n.s.</text>
</g>
<g id="F">
<text x="388.5" y="214.5" font-size="19.5" text-anchor="start" font-weight="bold" fill="#000" stroke="#000" stroke-width="0.28" >F</text>
<line x1="428.4" y1="224.0" x2="428.4" y2="359.1" stroke="#111" stroke-width="1.4" />
<line x1="427.79999999999995" y1="358.5" x2="520" y2="358.5" stroke="#111" stroke-width="1.4" />
<line x1="424.79999999999995" y1="358.5" x2="428.4" y2="358.5" stroke="#111" stroke-width="1.4" />
<text x="423.2" y="362.0" font-size="10" text-anchor="end" font-weight="normal" fill="#111" stroke="#111" stroke-width="0.28" >0</text>
<line x1="424.79999999999995" y1="325.0" x2="428.4" y2="325.0" stroke="#111" stroke-width="1.4" />
<text x="423.2" y="328.5" font-size="10" text-anchor="end" font-weight="normal" fill="#111" stroke="#111" stroke-width="0.28" >50</text>
<line x1="424.79999999999995" y1="291.5" x2="428.4" y2="291.5" stroke="#111" stroke-width="1.4" />
<text x="423.2" y="295.0" font-size="10" text-anchor="end" font-weight="normal" fill="#111" stroke="#111" stroke-width="0.28" >100</text>
<line x1="424.79999999999995" y1="258.0" x2="428.4" y2="258.0" stroke="#111" stroke-width="1.4" />
<text x="423.2" y="261.5" font-size="10" text-anchor="end" font-weight="normal" fill="#111" stroke="#111" stroke-width="0.28" >150</text>
<line x1="424.79999999999995" y1="224.5" x2="428.4" y2="224.5" stroke="#111" stroke-width="1.4" />
<text x="423.2" y="228.0" font-size="10" text-anchor="end" font-weight="normal" fill="#111" stroke="#111" stroke-width="0.28" >200</text>
<line x1="457" y1="358.5" x2="457" y2="361.9" stroke="#111" stroke-width="1.4" />
<line x1="488.75" y1="358.5" x2="488.75" y2="361.9" stroke="#111" stroke-width="1.4" />
<text x="457" y="373.0" font-size="10" text-anchor="middle" font-weight="normal" fill="#111" stroke="#111" stroke-width="0.28" >Mock</text>
<text x="488.75" y="373.0" font-size="10" text-anchor="middle" font-weight="normal" fill="#111" stroke="#111" stroke-width="0.28" >Stim</text>
<text transform="translate(400.8,291.5) rotate(-90)" font-size="11.1" text-anchor="middle" fill="#111" stroke="#111" stroke-width="0.28" >Corticosterone (pmol/L)</text>
<line x1="457" y1="307.8445065176909" x2="488.75" y2="246.95810055865923" stroke="#4d5256" stroke-width="1.5" />
<line x1="457" y1="310.33985102420854" x2="488.75" y2="273.9078212290503" stroke="#4d5256" stroke-width="1.5" />
<line x1="457" y1="311.8370577281192" x2="488.75" y2="289.8780260707635" stroke="#4d5256" stroke-width="1.5" />
<line x1="457" y1="312.83519553072625" x2="488.75" y2="290.8761638733706" stroke="#4d5256" stroke-width="1.5" />
<line x1="457" y1="327.3081936685289" x2="488.75" y2="291.8743016759777" stroke="#4d5256" stroke-width="1.5" />
<line x1="457" y1="331.0512104283054" x2="488.75" y2="293.62104283054003" stroke="#4d5256" stroke-width="1.5" />
<circle cx="457" cy="307.84" r="2.7" fill="#fff" stroke="#4d5256" stroke-width="1.35"/>
<circle cx="488.75" cy="246.96" r="2.7" fill="#fff" stroke="#4d5256" stroke-width="1.35"/>
<circle cx="457" cy="310.34" r="2.7" fill="#fff" stroke="#4d5256" stroke-width="1.35"/>
<circle cx="488.75" cy="273.91" r="2.7" fill="#fff" stroke="#4d5256" stroke-width="1.35"/>
<circle cx="457" cy="311.84" r="2.7" fill="#fff" stroke="#4d5256" stroke-width="1.35"/>
<circle cx="488.75" cy="289.88" r="2.7" fill="#fff" stroke="#4d5256" stroke-width="1.35"/>
<circle cx="457" cy="312.84" r="2.7" fill="#fff" stroke="#4d5256" stroke-width="1.35"/>
<circle cx="488.75" cy="290.88" r="2.7" fill="#fff" stroke="#4d5256" stroke-width="1.35"/>
<circle cx="457" cy="327.31" r="2.7" fill="#fff" stroke="#4d5256" stroke-width="1.35"/>
<circle cx="488.75" cy="291.87" r="2.7" fill="#fff" stroke="#4d5256" stroke-width="1.35"/>
<circle cx="457" cy="331.05" r="2.7" fill="#fff" stroke="#4d5256" stroke-width="1.35"/>
<circle cx="488.75" cy="293.62" r="2.7" fill="#fff" stroke="#4d5256" stroke-width="1.35"/>
<line x1="450.5" y1="319.0735567970205" x2="494.95" y2="281.1443202979516" stroke="#e8001c" stroke-width="1.5" />
<line x1="450.5" y1="323.0661080074488" x2="450.5" y2="314.83147113594043" stroke="#e0444f" stroke-width="1" />
<line x1="448.0" y1="323.0661080074488" x2="453.0" y2="323.0661080074488" stroke="#e0444f" stroke-width="1" />
<line x1="448.0" y1="314.83147113594043" x2="453.0" y2="314.83147113594043" stroke="#e0444f" stroke-width="1" />
<circle cx="450.5" cy="319.07" r="2.8" fill="#e8001c"/>
<line x1="494.95" y1="288.63035381750467" x2="494.95" y2="273.6582867783985" stroke="#e0444f" stroke-width="1" />
<line x1="492.45" y1="288.63035381750467" x2="497.45" y2="288.63035381750467" stroke="#e0444f" stroke-width="1" />
<line x1="492.45" y1="273.6582867783985" x2="497.45" y2="273.6582867783985" stroke="#e0444f" stroke-width="1" />
<circle cx="494.95" cy="281.14" r="2.8" fill="#e8001c"/>
<line x1="458" y1="240.2" x2="491" y2="240.2" stroke="#000" stroke-width="1.9" />
<text x="474.5" y="240.2" font-size="15" text-anchor="middle" font-weight="normal" fill="#000" stroke="#000" stroke-width="0.28" >**</text>
</g>
<g id="G">
<text x="1.5" y="402.7" font-size="19.5" text-anchor="start" font-weight="bold" fill="#000" stroke="#000" stroke-width="0.28" >G</text>
<line x1="41.5" y1="412.3" x2="41.5" y2="547.9" stroke="#111" stroke-width="1.4" />
<line x1="40.4" y1="547.3" x2="132" y2="547.3" stroke="#111" stroke-width="1.4" />
<line x1="37.8" y1="547.3" x2="41.5" y2="547.3" stroke="#111" stroke-width="1.4" />
<line x1="39.2" y1="533.8499999999999" x2="41.5" y2="533.8499999999999" stroke="#111" stroke-width="1.1" />
<line x1="39.2" y1="520.4" x2="41.5" y2="520.4" stroke="#111" stroke-width="1.1" />
<line x1="39.2" y1="506.95" x2="41.5" y2="506.95" stroke="#111" stroke-width="1.1" />
<line x1="39.2" y1="493.5" x2="41.5" y2="493.5" stroke="#111" stroke-width="1.1" />
<line x1="37.8" y1="480.04999999999995" x2="41.5" y2="480.04999999999995" stroke="#111" stroke-width="1.4" />
<line x1="39.2" y1="466.6" x2="41.5" y2="466.6" stroke="#111" stroke-width="1.1" />
<line x1="39.2" y1="453.15" x2="41.5" y2="453.15" stroke="#111" stroke-width="1.1" />
<line x1="39.2" y1="439.7" x2="41.5" y2="439.7" stroke="#111" stroke-width="1.1" />
<line x1="39.2" y1="426.25" x2="41.5" y2="426.25" stroke="#111" stroke-width="1.1" />
<line x1="37.8" y1="412.8" x2="41.5" y2="412.8" stroke="#111" stroke-width="1.4" />
<text x="32.1" y="550.8" font-size="9.8" text-anchor="end" font-weight="normal" fill="#111" stroke="#111" stroke-width="0.28" >0</text>
<text x="32.1" y="483.54999999999995" font-size="9.8" text-anchor="end" font-weight="normal" fill="#111" stroke="#111" stroke-width="0.28" >50</text>
<text x="32.1" y="416.3" font-size="9.8" text-anchor="end" font-weight="normal" fill="#111" stroke="#111" stroke-width="0.28" >100</text>
<text transform="translate(10.6,480.04999999999995) rotate(-90)" font-size="11" text-anchor="middle" fill="#111" stroke="#111" stroke-width="0.28" >%Trials evoking freezing</text>
<line x1="70.9" y1="534.3879999999999" x2="70.9" y2="540.5749999999999" stroke="#26263a" stroke-width="1.2" />
<line x1="63.8" y1="534.3879999999999" x2="77.8" y2="534.3879999999999" stroke="#26263a" stroke-width="1.2" />
<rect x="56.9" y="540.17" width="27.8" height="6.73" fill="#0707c4" stroke="#060660" stroke-width="0.8"/>
<line x1="102.6" y1="416.56600000000003" x2="102.6" y2="423.9635" stroke="#3a2222" stroke-width="1.2" />
<line x1="95.5" y1="416.56600000000003" x2="109.7" y2="416.56600000000003" stroke="#3a2222" stroke-width="1.2" />
<rect x="88.6" y="423.96" width="28.2" height="122.94" fill="#fd0000" stroke="#8e1414" stroke-width="0.9"/>
<text x="70.5" y="561.8" font-size="10" text-anchor="middle" font-weight="normal" fill="#111" stroke="#111" stroke-width="0.28" >Mock</text>
<text x="103" y="561.8" font-size="10" text-anchor="middle" font-weight="normal" fill="#111" stroke="#111" stroke-width="0.28" >Stim</text>
</g>
<g id="H">
<text x="134" y="402.7" font-size="19.5" text-anchor="start" font-weight="bold" fill="#000" stroke="#000" stroke-width="0.28" >H</text>
<line x1="171.3" y1="413.3" x2="171.3" y2="547.6" stroke="#111" stroke-width="1.4" />
<line x1="170.70000000000002" y1="547" x2="261" y2="547" stroke="#111" stroke-width="1.4" />
<line x1="167.70000000000002" y1="547.0" x2="171.3" y2="547.0" stroke="#111" stroke-width="1.4" />
<text x="166.10000000000002" y="550.5" font-size="10" text-anchor="end" font-weight="normal" fill="#111" stroke="#111" stroke-width="0.28" >0</text>
<line x1="167.70000000000002" y1="513.7" x2="171.3" y2="513.7" stroke="#111" stroke-width="1.4" />
<text x="166.10000000000002" y="517.2" font-size="10" text-anchor="end" font-weight="normal" fill="#111" stroke="#111" stroke-width="0.28" >25</text>
<line x1="167.70000000000002" y1="480.4" x2="171.3" y2="480.4" stroke="#111" stroke-width="1.4" />
<text x="166.10000000000002" y="483.9" font-size="10" text-anchor="end" font-weight="normal" fill="#111" stroke="#111" stroke-width="0.28" >50</text>
<line x1="167.70000000000002" y1="447.1" x2="171.3" y2="447.1" stroke="#111" stroke-width="1.4" />
<text x="166.10000000000002" y="450.6" font-size="10" text-anchor="end" font-weight="normal" fill="#111" stroke="#111" stroke-width="0.28" >75</text>
<line x1="167.70000000000002" y1="413.8" x2="171.3" y2="413.8" stroke="#111" stroke-width="1.4" />
<text x="166.10000000000002" y="417.3" font-size="10" text-anchor="end" font-weight="normal" fill="#111" stroke="#111" stroke-width="0.28" >100</text>
<line x1="168.9" y1="540.34" x2="171.3" y2="540.34" stroke="#111" stroke-width="1.1" />
<line x1="168.9" y1="533.68" x2="171.3" y2="533.68" stroke="#111" stroke-width="1.1" />
<line x1="168.9" y1="527.02" x2="171.3" y2="527.02" stroke="#111" stroke-width="1.1" />
<line x1="168.9" y1="520.36" x2="171.3" y2="520.36" stroke="#111" stroke-width="1.1" />
<line x1="168.9" y1="507.04" x2="171.3" y2="507.04" stroke="#111" stroke-width="1.1" />
<line x1="168.9" y1="500.38" x2="171.3" y2="500.38" stroke="#111" stroke-width="1.1" />
<line x1="168.9" y1="493.72" x2="171.3" y2="493.72" stroke="#111" stroke-width="1.1" />
<line x1="168.9" y1="487.06" x2="171.3" y2="487.06" stroke="#111" stroke-width="1.1" />
<line x1="168.9" y1="473.74" x2="171.3" y2="473.74" stroke="#111" stroke-width="1.1" />
<line x1="168.9" y1="467.08000000000004" x2="171.3" y2="467.08000000000004" stroke="#111" stroke-width="1.1" />
<line x1="168.9" y1="460.42" x2="171.3" y2="460.42" stroke="#111" stroke-width="1.1" />
<line x1="168.9" y1="453.76" x2="171.3" y2="453.76" stroke="#111" stroke-width="1.1" />
<line x1="168.9" y1="440.44" x2="171.3" y2="440.44" stroke="#111" stroke-width="1.1" />
<line x1="168.9" y1="433.78000000000003" x2="171.3" y2="433.78000000000003" stroke="#111" stroke-width="1.1" />
<line x1="168.9" y1="427.12" x2="171.3" y2="427.12" stroke="#111" stroke-width="1.1" />
<line x1="168.9" y1="420.46000000000004" x2="171.3" y2="420.46000000000004" stroke="#111" stroke-width="1.1" />
<line x1="200" y1="547" x2="200" y2="550.4" stroke="#111" stroke-width="1.4" />
<line x1="231.3" y1="547" x2="231.3" y2="550.4" stroke="#111" stroke-width="1.4" />
<text x="200" y="561.5" font-size="10" text-anchor="middle" font-weight="normal" fill="#111" stroke="#111" stroke-width="0.28" >Mock</text>
<text x="231.3" y="561.5" font-size="10" text-anchor="middle" font-weight="normal" fill="#111" stroke="#111" stroke-width="0.28" >Stim</text>
<text transform="translate(147.7,480.4) rotate(-90)" font-size="11.1" text-anchor="middle" fill="#111" stroke="#111" stroke-width="0.28" >%Time spent immobile</text>
<line x1="200" y1="488.8310112359551" x2="231.3" y2="413.8" stroke="#4d5256" stroke-width="1.5" />
<line x1="200" y1="510.681797752809" x2="231.3" y2="414.99730337078654" stroke="#4d5256" stroke-width="1.5" />
<line x1="200" y1="513.2759550561798" x2="231.3" y2="415.99505617977525" stroke="#4d5256" stroke-width="1.5" />
<line x1="200" y1="515.9698876404495" x2="231.3" y2="416.6934831460674" stroke="#4d5256" stroke-width="1.5" />
<line x1="200" y1="518.5640449438202" x2="231.3" y2="417.9905617977528" stroke="#4d5256" stroke-width="1.5" />
<line x1="200" y1="525.6480898876405" x2="231.3" y2="434.35370786516853" stroke="#4d5256" stroke-width="1.5" />
<circle cx="200" cy="488.83" r="2.7" fill="#fff" stroke="#4d5256" stroke-width="1.35"/>
<circle cx="231.3" cy="413.80" r="2.7" fill="#fff" stroke="#4d5256" stroke-width="1.35"/>
<circle cx="200" cy="510.68" r="2.7" fill="#fff" stroke="#4d5256" stroke-width="1.35"/>
<circle cx="231.3" cy="415.00" r="2.7" fill="#fff" stroke="#4d5256" stroke-width="1.35"/>
<circle cx="200" cy="513.28" r="2.7" fill="#fff" stroke="#4d5256" stroke-width="1.35"/>
<circle cx="231.3" cy="416.00" r="2.7" fill="#fff" stroke="#4d5256" stroke-width="1.35"/>
<circle cx="200" cy="515.97" r="2.7" fill="#fff" stroke="#4d5256" stroke-width="1.35"/>
<circle cx="231.3" cy="416.69" r="2.7" fill="#fff" stroke="#4d5256" stroke-width="1.35"/>
<circle cx="200" cy="518.56" r="2.7" fill="#fff" stroke="#4d5256" stroke-width="1.35"/>
<circle cx="231.3" cy="417.99" r="2.7" fill="#fff" stroke="#4d5256" stroke-width="1.35"/>
<circle cx="200" cy="525.65" r="2.7" fill="#fff" stroke="#4d5256" stroke-width="1.35"/>
<circle cx="231.3" cy="434.35" r="2.7" fill="#fff" stroke="#4d5256" stroke-width="1.35"/>
<line x1="193.5" y1="507.9878651685393" x2="237.5" y2="417.19235955056183" stroke="#e8001c" stroke-width="1.5" />
<line x1="193.5" y1="513.2759550561798" x2="193.5" y2="502.7995505617978" stroke="#e0444f" stroke-width="1" />
<line x1="191.0" y1="513.2759550561798" x2="196.0" y2="513.2759550561798" stroke="#e0444f" stroke-width="1" />
<line x1="191.0" y1="502.7995505617978" x2="196.0" y2="502.7995505617978" stroke="#e0444f" stroke-width="1" />
<circle cx="193.5" cy="507.99" r="2.8" fill="#e8001c"/>
<line x1="237.5" y1="418.4894382022472" x2="237.5" y2="415.79550561797754" stroke="#e0444f" stroke-width="1" />
<line x1="235.0" y1="418.4894382022472" x2="240.0" y2="418.4894382022472" stroke="#e0444f" stroke-width="1" />
<line x1="235.0" y1="415.79550561797754" x2="240.0" y2="415.79550561797754" stroke="#e0444f" stroke-width="1" />
<circle cx="237.5" cy="417.19" r="2.8" fill="#e8001c"/>
<line x1="197.8" y1="407.5" x2="231.2" y2="407.5" stroke="#000" stroke-width="1.9" />
<text x="214.5" y="402" font-size="14" text-anchor="middle" font-weight="normal" fill="#000" stroke="#000" stroke-width="0.28" >‡</text>
</g>
<g id="I">
<text x="262.5" y="402.7" font-size="19.5" text-anchor="start" font-weight="bold" fill="#000" stroke="#000" stroke-width="0.28" >I</text>
<line x1="301.3" y1="413.3" x2="301.3" y2="547.8000000000001" stroke="#111" stroke-width="1.4" />
<line x1="300.7" y1="547.2" x2="391" y2="547.2" stroke="#111" stroke-width="1.4" />
<line x1="297.7" y1="547.2" x2="301.3" y2="547.2" stroke="#111" stroke-width="1.4" />
<text x="296.1" y="550.7" font-size="10" text-anchor="end" font-weight="normal" fill="#111" stroke="#111" stroke-width="0.28" >0</text>
<line x1="297.7" y1="520.52" x2="301.3" y2="520.52" stroke="#111" stroke-width="1.4" />
<text x="296.1" y="524.02" font-size="10" text-anchor="end" font-weight="normal" fill="#111" stroke="#111" stroke-width="0.28" >500</text>
<line x1="297.7" y1="493.84000000000003" x2="301.3" y2="493.84000000000003" stroke="#111" stroke-width="1.4" />
<text x="296.1" y="497.34000000000003" font-size="10" text-anchor="end" font-weight="normal" fill="#111" stroke="#111" stroke-width="0.28" >1000</text>
<line x1="297.7" y1="467.16" x2="301.3" y2="467.16" stroke="#111" stroke-width="1.4" />
<text x="296.1" y="470.66" font-size="10" text-anchor="end" font-weight="normal" fill="#111" stroke="#111" stroke-width="0.28" >1500</text>
<line x1="297.7" y1="440.48" x2="301.3" y2="440.48" stroke="#111" stroke-width="1.4" />
<text x="296.1" y="443.98" font-size="10" text-anchor="end" font-weight="normal" fill="#111" stroke="#111" stroke-width="0.28" >2000</text>
<line x1="297.7" y1="413.8" x2="301.3" y2="413.8" stroke="#111" stroke-width="1.4" />
<text x="296.1" y="417.3" font-size="10" text-anchor="end" font-weight="normal" fill="#111" stroke="#111" stroke-width="0.28" >2500</text>
<line x1="298.90000000000003" y1="533.86" x2="301.3" y2="533.86" stroke="#111" stroke-width="1.1" />
<line x1="298.90000000000003" y1="507.18000000000006" x2="301.3" y2="507.18000000000006" stroke="#111" stroke-width="1.1" />
<line x1="298.90000000000003" y1="480.5" x2="301.3" y2="480.5" stroke="#111" stroke-width="1.1" />
<line x1="298.90000000000003" y1="453.82000000000005" x2="301.3" y2="453.82000000000005" stroke="#111" stroke-width="1.1" />
<line x1="298.90000000000003" y1="427.14" x2="301.3" y2="427.14" stroke="#111" stroke-width="1.1" />
<line x1="330" y1="547.2" x2="330" y2="550.6" stroke="#111" stroke-width="1.4" />
<line x1="362" y1="547.2" x2="362" y2="550.6" stroke="#111" stroke-width="1.4" />
<text x="330" y="561.7" font-size="10" text-anchor="middle" font-weight="normal" fill="#111" stroke="#111" stroke-width="0.28" >Mock</text>
<text x="362" y="561.7" font-size="10" text-anchor="middle" font-weight="normal" fill="#111" stroke="#111" stroke-width="0.28" >Stim</text>
<text transform="translate(269,480.5) rotate(-90)" font-size="11.1" text-anchor="middle" fill="#111" stroke="#111" stroke-width="0.28" >Distance traveled  (cm)</text>
<line x1="330" y1="460.7647940074907" x2="362" y2="540.9047191011236" stroke="#4d5256" stroke-width="1.5" />
<line x1="330" y1="462.26367041198506" x2="362" y2="542.9032209737828" stroke="#4d5256" stroke-width="1.5" />
<line x1="330" y1="499.43580524344577" x2="362" y2="541.9039700374533" stroke="#4d5256" stroke-width="1.5" />
<line x1="330" y1="505.93093632958806" x2="362" y2="543.9024719101125" stroke="#4d5256" stroke-width="1.5" />
<line x1="330" y1="516.6229213483148" x2="362" y2="544.901722846442" stroke="#4d5256" stroke-width="1.5" />
<line x1="330" y1="519.5207490636706" x2="362" y2="545.4013483146068" stroke="#4d5256" stroke-width="1.5" />
<line x1="330" y1="525.316404494382" x2="362" y2="545.9009737827716" stroke="#4d5256" stroke-width="1.5" />
<circle cx="330" cy="460.76" r="2.7" fill="#fff" stroke="#4d5256" stroke-width="1.35"/>
<circle cx="362" cy="540.90" r="2.7" fill="#fff" stroke="#4d5256" stroke-width="1.35"/>
<circle cx="330" cy="462.26" r="2.7" fill="#fff" stroke="#4d5256" stroke-width="1.35"/>
<circle cx="362" cy="542.90" r="2.7" fill="#fff" stroke="#4d5256" stroke-width="1.35"/>
<circle cx="330" cy="499.44" r="2.7" fill="#fff" stroke="#4d5256" stroke-width="1.35"/>
<circle cx="362" cy="541.90" r="2.7" fill="#fff" stroke="#4d5256" stroke-width="1.35"/>
<circle cx="330" cy="505.93" r="2.7" fill="#fff" stroke="#4d5256" stroke-width="1.35"/>
<circle cx="362" cy="543.90" r="2.7" fill="#fff" stroke="#4d5256" stroke-width="1.35"/>
<circle cx="330" cy="516.62" r="2.7" fill="#fff" stroke="#4d5256" stroke-width="1.35"/>
<circle cx="362" cy="544.90" r="2.7" fill="#fff" stroke="#4d5256" stroke-width="1.35"/>
<circle cx="330" cy="519.52" r="2.7" fill="#fff" stroke="#4d5256" stroke-width="1.35"/>
<circle cx="362" cy="545.40" r="2.7" fill="#fff" stroke="#4d5256" stroke-width="1.35"/>
<circle cx="330" cy="525.32" r="2.7" fill="#fff" stroke="#4d5256" stroke-width="1.35"/>
<circle cx="362" cy="545.90" r="2.7" fill="#fff" stroke="#4d5256" stroke-width="1.35"/>
<line x1="323.5" y1="498.93617977528095" x2="368.2" y2="544.901722846442" stroke="#e8001c" stroke-width="1.5" />
<line x1="323.5" y1="508.92868913857683" x2="323.5" y2="488.94367041198507" stroke="#e0444f" stroke-width="1" />
<line x1="321.0" y1="508.92868913857683" x2="326.0" y2="508.92868913857683" stroke="#e0444f" stroke-width="1" />
<line x1="321.0" y1="488.94367041198507" x2="326.0" y2="488.94367041198507" stroke="#e0444f" stroke-width="1" />
<circle cx="323.5" cy="498.94" r="2.8" fill="#e8001c"/>
<line x1="368.2" y1="545.9009737827716" x2="368.2" y2="543.9024719101125" stroke="#e0444f" stroke-width="1" />
<line x1="365.7" y1="545.9009737827716" x2="370.7" y2="545.9009737827716" stroke="#e0444f" stroke-width="1" />
<line x1="365.7" y1="543.9024719101125" x2="370.7" y2="543.9024719101125" stroke="#e0444f" stroke-width="1" />
<circle cx="368.2" cy="544.90" r="2.8" fill="#e8001c"/>
<line x1="329.3" y1="452.3" x2="362.2" y2="452.3" stroke="#000" stroke-width="1.9" />
<text x="345" y="451.7" font-size="15" text-anchor="middle" font-weight="normal" fill="#000" stroke="#000" stroke-width="0.28" >**</text>
</g>
<g id="J">
<text x="396" y="402.7" font-size="19.5" text-anchor="start" font-weight="bold" fill="#000" stroke="#000" stroke-width="0.28" >J</text>
<line x1="428.3" y1="413.3" x2="428.3" y2="547.8000000000001" stroke="#111" stroke-width="1.4" />
<line x1="427.7" y1="547.2" x2="520" y2="547.2" stroke="#111" stroke-width="1.4" />
<line x1="424.7" y1="547.2" x2="428.3" y2="547.2" stroke="#111" stroke-width="1.4" />
<text x="423.1" y="550.7" font-size="10" text-anchor="end" font-weight="normal" fill="#111" stroke="#111" stroke-width="0.28" >0</text>
<line x1="424.7" y1="502.73333333333335" x2="428.3" y2="502.73333333333335" stroke="#111" stroke-width="1.4" />
<text x="423.1" y="506.23333333333335" font-size="10" text-anchor="end" font-weight="normal" fill="#111" stroke="#111" stroke-width="0.28" >1</text>
<line x1="424.7" y1="458.2666666666667" x2="428.3" y2="458.2666666666667" stroke="#111" stroke-width="1.4" />
<text x="423.1" y="461.7666666666667" font-size="10" text-anchor="end" font-weight="normal" fill="#111" stroke="#111" stroke-width="0.28" >2</text>
<line x1="424.7" y1="413.8" x2="428.3" y2="413.8" stroke="#111" stroke-width="1.4" />
<text x="423.1" y="417.3" font-size="10" text-anchor="end" font-weight="normal" fill="#111" stroke="#111" stroke-width="0.28" >3</text>
<line x1="425.90000000000003" y1="538.3066666666667" x2="428.3" y2="538.3066666666667" stroke="#111" stroke-width="1.1" />
<line x1="425.90000000000003" y1="529.4133333333334" x2="428.3" y2="529.4133333333334" stroke="#111" stroke-width="1.1" />
<line x1="425.90000000000003" y1="520.52" x2="428.3" y2="520.52" stroke="#111" stroke-width="1.1" />
<line x1="425.90000000000003" y1="511.6266666666667" x2="428.3" y2="511.6266666666667" stroke="#111" stroke-width="1.1" />
<line x1="425.90000000000003" y1="493.84000000000003" x2="428.3" y2="493.84000000000003" stroke="#111" stroke-width="1.1" />
<line x1="425.90000000000003" y1="484.9466666666667" x2="428.3" y2="484.9466666666667" stroke="#111" stroke-width="1.1" />
<line x1="425.90000000000003" y1="476.05333333333334" x2="428.3" y2="476.05333333333334" stroke="#111" stroke-width="1.1" />
<line x1="425.90000000000003" y1="467.16" x2="428.3" y2="467.16" stroke="#111" stroke-width="1.1" />
<line x1="425.90000000000003" y1="449.37333333333333" x2="428.3" y2="449.37333333333333" stroke="#111" stroke-width="1.1" />
<line x1="425.90000000000003" y1="440.48" x2="428.3" y2="440.48" stroke="#111" stroke-width="1.1" />
<line x1="425.90000000000003" y1="431.5866666666667" x2="428.3" y2="431.5866666666667" stroke="#111" stroke-width="1.1" />
<line x1="425.90000000000003" y1="422.6933333333333" x2="428.3" y2="422.6933333333333" stroke="#111" stroke-width="1.1" />
<line x1="457" y1="547.2" x2="457" y2="550.6" stroke="#111" stroke-width="1.4" />
<line x1="489" y1="547.2" x2="489" y2="550.6" stroke="#111" stroke-width="1.4" />
<text x="457" y="561.7" font-size="10" text-anchor="middle" font-weight="normal" fill="#111" stroke="#111" stroke-width="0.28" >Mock</text>
<text x="489" y="561.7" font-size="10" text-anchor="middle" font-weight="normal" fill="#111" stroke="#111" stroke-width="0.28" >Stim</text>
<text transform="translate(409.6,480.5) rotate(-90)" font-size="11.1" text-anchor="middle" fill="#111" stroke="#111" stroke-width="0.28" >Mean  Velocity (cm/s)</text>
<line x1="457" y1="455.46876404494384" x2="489" y2="542.9032209737828" stroke="#4d5256" stroke-width="1.5" />
<line x1="457" y1="495.7385767790263" x2="489" y2="513.42531835206" stroke="#4d5256" stroke-width="1.5" />
<line x1="457" y1="497.4373033707866" x2="489" y2="543.9024719101125" stroke="#4d5256" stroke-width="1.5" />
<line x1="457" y1="510.82726591760303" x2="489" y2="541.9039700374533" stroke="#4d5256" stroke-width="1.5" />
<line x1="457" y1="516.9226966292135" x2="489" y2="544.901722846442" stroke="#4d5256" stroke-width="1.5" />
<line x1="457" y1="519.5207490636705" x2="489" y2="545.9009737827716" stroke="#4d5256" stroke-width="1.5" />
<circle cx="457" cy="455.47" r="2.7" fill="#fff" stroke="#4d5256" stroke-width="1.35"/>
<circle cx="489" cy="542.90" r="2.7" fill="#fff" stroke="#4d5256" stroke-width="1.35"/>
<circle cx="457" cy="495.74" r="2.7" fill="#fff" stroke="#4d5256" stroke-width="1.35"/>
<circle cx="489" cy="513.43" r="2.7" fill="#fff" stroke="#4d5256" stroke-width="1.35"/>
<circle cx="457" cy="497.44" r="2.7" fill="#fff" stroke="#4d5256" stroke-width="1.35"/>
<circle cx="489" cy="543.90" r="2.7" fill="#fff" stroke="#4d5256" stroke-width="1.35"/>
<circle cx="457" cy="510.83" r="2.7" fill="#fff" stroke="#4d5256" stroke-width="1.35"/>
<circle cx="489" cy="541.90" r="2.7" fill="#fff" stroke="#4d5256" stroke-width="1.35"/>
<circle cx="457" cy="516.92" r="2.7" fill="#fff" stroke="#4d5256" stroke-width="1.35"/>
<circle cx="489" cy="544.90" r="2.7" fill="#fff" stroke="#4d5256" stroke-width="1.35"/>
<circle cx="457" cy="519.52" r="2.7" fill="#fff" stroke="#4d5256" stroke-width="1.35"/>
<circle cx="489" cy="545.90" r="2.7" fill="#fff" stroke="#4d5256" stroke-width="1.35"/>
<line x1="450.5" y1="492.9406741573034" x2="495.2" y2="540.6049438202249" stroke="#e8001c" stroke-width="1.5" />
<line x1="450.5" y1="503.4328089887641" x2="450.5" y2="482.64838951310867" stroke="#e0444f" stroke-width="1" />
<line x1="448.0" y1="503.4328089887641" x2="453.0" y2="503.4328089887641" stroke="#e0444f" stroke-width="1" />
<line x1="448.0" y1="482.64838951310867" x2="453.0" y2="482.64838951310867" stroke="#e0444f" stroke-width="1" />
<circle cx="450.5" cy="492.94" r="2.8" fill="#e8001c"/>
<line x1="495.2" y1="544.901722846442" x2="495.2" y2="535.9084644194758" stroke="#e0444f" stroke-width="1" />
<line x1="492.7" y1="544.901722846442" x2="497.7" y2="544.901722846442" stroke="#e0444f" stroke-width="1" />
<line x1="492.7" y1="535.9084644194758" x2="497.7" y2="535.9084644194758" stroke="#e0444f" stroke-width="1" />
<circle cx="495.2" cy="540.60" r="2.8" fill="#e8001c"/>
<line x1="457" y1="446.8" x2="489.6" y2="446.8" stroke="#000" stroke-width="1.9" />
<text x="472" y="445.7" font-size="15" text-anchor="middle" font-weight="normal" fill="#000" stroke="#000" stroke-width="0.28" >**</text>
</g>
<g id="K">
<text x="1.2" y="586.8" font-size="19.6" font-weight="bold" fill="#000">K</text>
<g fill="#fff" stroke="#505050" stroke-width="0.55" stroke-linejoin="round">
<path d="M80.0 623.1 C79.6 621.1 73.7 619.3 70.2 618.9 C66.7 618.5 62.8 619.3 59.0 620.6 C55.3 621.9 51.8 623.4 47.9 626.7 C43.9 630.1 38.7 635.6 35.3 640.7 C32.0 645.8 29.2 652.8 27.8 657.4 C26.4 662.1 26.2 664.8 27.0 668.6 C27.8 672.3 30.0 676.7 32.5 679.7 C35.1 682.7 38.8 685.1 42.3 686.7 C45.8 688.3 50.2 689.2 53.5 689.5 C56.7 689.8 59.9 689.6 61.8 688.6 C63.8 687.7 65.2 686.1 65.2 683.9 C65.2 681.7 62.8 678.8 61.8 675.5 C60.9 672.3 59.8 668.3 59.6 664.4 C59.4 660.4 59.8 655.8 60.7 651.8 C61.6 647.9 63.2 644.2 65.2 640.7 C67.1 637.2 70.0 633.8 72.4 630.9 C74.9 628.0 80.3 625.1 80.0 623.1Z"/>
<path d="M103.4 623.1 C103.8 621.1 109.7 619.3 113.1 618.9 C116.6 618.5 120.6 619.3 124.3 620.6 C128.0 621.9 131.5 623.4 135.4 626.7 C139.4 630.1 144.7 635.6 148.0 640.7 C151.3 645.8 154.1 652.8 155.5 657.4 C156.9 662.1 157.2 664.8 156.4 668.6 C155.6 672.3 153.3 676.7 150.8 679.7 C148.2 682.7 144.5 685.1 141.0 686.7 C137.5 688.3 133.1 689.2 129.9 689.5 C126.6 689.8 123.5 689.6 121.5 688.6 C119.6 687.7 118.2 686.1 118.2 683.9 C118.2 681.7 120.6 678.8 121.5 675.5 C122.4 672.3 123.6 668.3 123.7 664.4 C123.9 660.4 123.6 655.8 122.6 651.8 C121.7 647.9 120.1 644.2 118.2 640.7 C116.2 637.2 113.4 633.8 110.9 630.9 C108.4 628.0 103.0 625.1 103.4 623.1Z"/>
<path d="M64.6 640.1 C66.0 636.5 67.5 635.0 69.6 632.9 C71.7 630.8 74.3 629.0 77.2 627.6 C80.0 626.2 84.5 624.6 86.9 624.5 C89.3 624.4 90.1 626.7 91.7 626.7 C93.2 626.7 94.0 624.4 96.4 624.5 C98.8 624.6 103.3 626.2 106.2 627.6 C109.1 629.0 111.6 630.8 113.7 632.9 C115.8 635.0 117.3 636.5 118.7 640.1 C120.1 643.7 121.5 649.9 122.1 654.6 C122.6 659.4 122.8 664.1 122.1 668.6 C121.3 673.0 120.0 677.7 117.6 681.1 C115.2 684.5 112.2 687.3 107.8 689.2 C103.5 691.1 97.1 692.5 91.7 692.5 C86.3 692.5 79.8 691.1 75.5 689.2 C71.2 687.3 68.1 684.5 65.7 681.1 C63.4 677.7 62.0 673.0 61.3 668.6 C60.5 664.1 60.7 659.4 61.3 654.6 C61.8 649.9 63.2 643.7 64.6 640.1Z"/>
<path d="M66.3 641.2 C66.5 639.6 69.3 635.7 71.6 633.7 C73.9 631.7 77.2 629.8 80.0 629.0 C82.7 628.1 86.6 627.8 88.3 628.4 C90.0 629.0 91.2 631.1 90.3 632.3 C89.3 633.5 85.4 634.3 82.7 635.7 C80.1 637.0 76.5 639.4 74.4 640.7 C72.3 642.0 71.5 643.4 70.2 643.5 C68.8 643.6 66.1 642.9 66.3 641.2Z"/>
<path d="M117.0 641.2 C116.8 639.6 114.0 635.7 111.7 633.7 C109.5 631.7 106.2 629.8 103.4 629.0 C100.6 628.1 96.7 627.8 95.0 628.4 C93.3 629.0 92.1 631.1 93.1 632.3 C94.0 633.5 97.9 634.3 100.6 635.7 C103.2 637.0 106.9 639.4 109.0 640.7 C111.0 642.0 111.8 643.4 113.1 643.5 C114.5 643.6 117.3 642.9 117.0 641.2Z"/>
<path d="M69.6 642.3 C69.6 641.5 73.4 638.1 75.8 636.5 C78.1 634.9 81.3 633.4 83.6 632.9 C85.9 632.4 88.7 632.7 89.7 633.4 C90.7 634.2 90.9 636.4 89.7 637.3 C88.6 638.3 85.1 638.3 82.7 639.0 C80.4 639.7 78.0 641.2 75.8 641.8 C73.6 642.3 69.6 643.2 69.6 642.3Z"/>
<path d="M113.7 642.3 C113.7 641.5 109.9 638.1 107.6 636.5 C105.2 634.9 102.1 633.4 99.8 632.9 C97.4 632.4 94.6 632.7 93.6 633.4 C92.6 634.2 92.5 636.4 93.6 637.3 C94.8 638.3 98.3 638.3 100.6 639.0 C102.9 639.7 105.4 641.2 107.6 641.8 C109.7 642.3 113.7 643.2 113.7 642.3Z"/>
<path d="M73.0 642.9 C72.4 642.5 77.0 640.0 79.1 639.0 C81.3 638.0 84.0 637.0 85.8 636.8 C87.6 636.6 89.2 637.2 89.7 637.9 C90.3 638.5 90.3 640.1 89.2 640.7 C88.0 641.2 85.4 640.9 82.7 641.2 C80.0 641.6 73.6 643.3 73.0 642.9Z"/>
<path d="M110.4 642.9 C111.0 642.5 106.4 640.0 104.2 639.0 C102.1 638.0 99.3 637.0 97.5 636.8 C95.8 636.6 94.2 637.2 93.6 637.9 C93.1 638.5 93.0 640.1 94.2 640.7 C95.3 641.2 97.9 640.9 100.6 641.2 C103.3 641.6 109.7 643.3 110.4 642.9Z"/>
<circle cx="91.7" cy="652.4" r="11.4"/>
</g>
<path d="M78.8 645.7 C78.8 644.5 79.4 642.8 80.5 641.8 C81.6 640.8 83.4 640.2 85.3 639.8 C87.1 639.5 89.5 639.6 91.7 639.6 C93.8 639.6 96.2 639.5 98.1 639.8 C99.9 640.2 101.8 640.8 102.8 641.8 C103.9 642.8 104.5 644.5 104.5 645.7 C104.4 646.9 103.8 648.1 102.5 648.8 C101.3 649.4 98.8 649.8 97.0 649.6 C95.2 649.4 93.4 647.6 91.7 647.6 C89.9 647.6 88.2 649.4 86.4 649.6 C84.6 649.8 82.0 649.4 80.8 648.8 C79.5 648.1 78.9 646.9 78.8 645.7Z" fill="#1fbe58" stroke="#179a45" stroke-width="0.4"/>
<circle cx="91.4" cy="645.7" r="0.8" fill="#111"/>
<g stroke="#111" stroke-width="1.9" stroke-dasharray="5.8 3.4" fill="none">
<line x1="92.6" y1="643" x2="170.6" y2="587"/>
<line x1="91.7" y1="658.5" x2="170.6" y2="715"/>
</g>
<defs>
<clipPath id="c4"><rect x="170.6" y="585.7" width="173.9" height="133.7"/></clipPath>
<clipPath id="c10"><rect x="345.5" y="585.7" width="173.5" height="133.7"/></clipPath>
<radialGradient id="g4a"><stop offset="0" stop-color="#2fe03a" stop-opacity="0.85"/><stop offset="0.45" stop-color="#1fae2a" stop-opacity="0.5"/><stop offset="1" stop-color="#0a5010" stop-opacity="0"/></radialGradient>
<radialGradient id="g4b"><stop offset="0" stop-color="#159a20" stop-opacity="0.55"/><stop offset="0.5" stop-color="#0e6a16" stop-opacity="0.32"/><stop offset="1" stop-color="#052a08" stop-opacity="0"/></radialGradient>
<radialGradient id="g10a"><stop offset="0" stop-color="#4cf53e" stop-opacity="1"/><stop offset="0.5" stop-color="#34dc2e" stop-opacity="0.9"/><stop offset="0.8" stop-color="#1c8a1c" stop-opacity="0.45"/><stop offset="1" stop-color="#0a3a0a" stop-opacity="0"/></radialGradient>
<radialGradient id="g10b"><stop offset="0" stop-color="#1f9a22" stop-opacity="0.75"/><stop offset="0.6" stop-color="#125a14" stop-opacity="0.4"/><stop offset="1" stop-color="#062808" stop-opacity="0"/></radialGradient>
<radialGradient id="r10a"><stop offset="0" stop-color="#3c060c" stop-opacity="0.55"/><stop offset="0.6" stop-color="#280408" stop-opacity="0.3"/><stop offset="1" stop-color="#140203" stop-opacity="0"/></radialGradient>
<radialGradient id="blk"><stop offset="0" stop-color="#000" stop-opacity="0.95"/><stop offset="0.6" stop-color="#000" stop-opacity="0.75"/><stop offset="1" stop-color="#000" stop-opacity="0"/></radialGradient>
<radialGradient id="gmask"><stop offset="0" stop-color="#fff" stop-opacity="1"/><stop offset="0.4" stop-color="#fff" stop-opacity="0.8"/><stop offset="0.75" stop-color="#fff" stop-opacity="0.32"/><stop offset="1" stop-color="#fff" stop-opacity="0"/></radialGradient>
<radialGradient id="rmask"><stop offset="0" stop-color="#fff" stop-opacity="0.55"/><stop offset="0.7" stop-color="#fff" stop-opacity="0.35"/><stop offset="1" stop-color="#fff" stop-opacity="0.15"/></radialGradient>
<filter id="gspeck" x="0" y="0" width="100%" height="100%" color-interpolation-filters="sRGB"><feTurbulence type="fractalNoise" baseFrequency="0.62" numOctaves="2" seed="4" result="n"/><feColorMatrix in="n" type="matrix" values="0 0 0 0 0.35  0 0 0 0 0.98  0 0 0 0 0.25  0 2.6 0 0 -0.95" result="g"/><feComposite in="g" in2="SourceGraphic" operator="in"/></filter>
<filter id="gspeck4" x="0" y="0" width="100%" height="100%" color-interpolation-filters="sRGB"><feTurbulence type="fractalNoise" baseFrequency="0.7" numOctaves="2" seed="21" result="n"/><feColorMatrix in="n" type="matrix" values="0 0 0 0 0.2  0 0 0 0 0.85  0 0 0 0 0.22  0 2.4 0 0 -0.95" result="g"/><feComposite in="g" in2="SourceGraphic" operator="in"/></filter>
<filter id="dspeck" x="0" y="0" width="100%" height="100%" color-interpolation-filters="sRGB"><feTurbulence type="fractalNoise" baseFrequency="0.5" numOctaves="2" seed="11" result="n"/><feColorMatrix in="n" type="matrix" values="0 0 0 0 0.02  0 0 0 0 0.14  0 0 0 0 0.02  2.2 0 0 0 -1.05" result="g"/><feComposite in="g" in2="SourceGraphic" operator="in"/></filter>
<filter id="rspeck" x="0" y="0" width="100%" height="100%" color-interpolation-filters="sRGB"><feTurbulence type="fractalNoise" baseFrequency="0.45" numOctaves="2" seed="8" result="n"/><feColorMatrix in="n" type="matrix" values="0 0 0 0 0.5  0 0 0 0 0.03  0 0 0 0 0.08  0 0 2.4 0 -1.0" result="g"/><feComposite in="g" in2="SourceGraphic" operator="in"/></filter>
<filter id="bl1" x="-20%" y="-20%" width="140%" height="140%"><feGaussianBlur stdDeviation="0.45"/></filter>
<filter id="bl2" x="-20%" y="-20%" width="140%" height="140%"><feGaussianBlur stdDeviation="1.2"/></filter>
</defs>
<rect x="170.6" y="585.7" width="348.4" height="133.7" fill="#000"/>
<g clip-path="url(#c4)">
<ellipse cx="266" cy="664" rx="54" ry="44" fill="url(#g4b)" opacity="0.7"/>
<ellipse cx="296" cy="692" rx="30" ry="24" fill="url(#g4b)" opacity="0.4"/>
<ellipse cx="240" cy="662" rx="14" ry="14" fill="url(#g4b)" opacity="0.8"/>
<ellipse cx="272" cy="657" rx="19" ry="12" fill="url(#g4a)" transform="rotate(-40 272 657)"/>
<ellipse cx="266" cy="664" rx="12" ry="7" fill="url(#g4a)" opacity="0.85" transform="rotate(35 266 664)"/>
<g filter="url(#gspeck4)">
<ellipse cx="268" cy="664" rx="48" ry="40" fill="url(#gmask)" opacity="0.55"/>
<ellipse cx="272" cy="658" rx="24" ry="16" fill="url(#gmask)" transform="rotate(-38 272 658)"/>
<ellipse cx="300" cy="690" rx="30" ry="24" fill="url(#gmask)" opacity="0.35"/>
</g>
<path d="M252.5 650.7 C252.8 651.8 253.2 655.3 254.2 657.4 C255.1 659.5 256.5 661.4 258.2 663.1 C259.9 664.8 262.6 666.0 264.3 667.5 C265.9 669.0 267.5 670.4 268.0 671.9 C268.4 673.4 268.0 675.2 267.0 676.6 C265.9 678.0 263.7 679.4 261.6 680.3 C259.5 681.1 255.4 681.4 254.2 681.6 C253.1 681.5 249.3 681.5 247.4 680.6 C245.6 679.8 243.9 678.0 243.1 676.6 C242.2 675.1 242.0 673.5 242.4 671.9 C242.8 670.2 244.2 668.5 245.4 666.8 C246.6 665.1 248.4 663.5 249.5 661.8 C250.5 660.0 251.3 658.2 251.8 656.4 C252.3 654.5 252.4 651.6 252.5 650.7Z" fill="#020402"/>
<path d="M253.2 652.3 C253.5 653.4 254.2 656.5 255.2 658.4 C256.1 660.3 257.3 661.9 258.9 663.5 C260.5 665.0 263.1 666.1 264.6 667.5 C266.1 668.8 267.4 670.9 268.0 671.5" stroke="#5cf060" stroke-width="1" fill="none" opacity="0.85" filter="url(#bl1)"/>
<rect x="234.6" y="640.3" width="59.6" height="45.2" fill="none" stroke="#f6f6f6" stroke-width="1.15" stroke-dasharray="2.5 1.5"/>
</g>
<text x="173.6" y="600.5" font-size="13.2" fill="#3bd048" stroke="#3bd048" stroke-width="0.25">ChR2</text>
<text x="173.6" y="615.6" font-size="13.2" fill="#cc2236" stroke="#cc2236" stroke-width="0.25">cFos</text>
<text x="173.4" y="714.2" font-size="12.2" fill="#fafafa">4x</text>
<rect x="344.3" y="585.7" width="1.2" height="133.7" fill="#c4c4c4"/>
<g clip-path="url(#c10)">
<ellipse cx="440" cy="628" rx="120" ry="60" fill="url(#r10a)"/>
<ellipse cx="505" cy="675" rx="45" ry="65" fill="url(#r10a)" opacity="0.8"/>
<ellipse cx="425" cy="628" rx="40" ry="18" fill="url(#r10a)" opacity="0.9"/>
<rect x="345" y="585" width="175" height="135" fill="url(#rmask)" filter="url(#rspeck)"/>
<ellipse cx="352" cy="712" rx="62" ry="58" fill="url(#blk)"/>
<ellipse cx="350" cy="590" rx="40" ry="30" fill="url(#blk)" opacity="0.7"/>
<g opacity="0.9">
<ellipse cx="459" cy="654" rx="42" ry="34" fill="url(#g10b)"/>
<ellipse cx="455" cy="698" rx="44" ry="26" fill="url(#g10b)" opacity="0.55"/>
<ellipse cx="410" cy="648" rx="13" ry="25" fill="url(#g10b)" opacity="0.8"/>
<ellipse cx="430" cy="652" rx="20" ry="22" fill="url(#g10b)" opacity="0.6"/>
<ellipse cx="464" cy="607" rx="8" ry="22" fill="url(#g10b)" opacity="0.25" transform="rotate(-18 464 607)"/>
<ellipse cx="457" cy="655" rx="36" ry="29" fill="url(#g10a)" opacity="1" transform="rotate(-30 457 655)"/>
<ellipse cx="452" cy="660" rx="22" ry="18" fill="url(#g10a)" opacity="0.7" transform="rotate(-30 452 660)"/>
<ellipse cx="427" cy="680" rx="22" ry="7" fill="url(#g10a)" opacity="0.95" transform="rotate(32 427 680)"/>
<ellipse cx="440" cy="673" rx="22" ry="14" fill="url(#g10b)" opacity="0.9" transform="rotate(20 440 673)"/>
</g>
<g filter="url(#gspeck)">
<ellipse cx="459" cy="653" rx="43" ry="35" fill="url(#gmask)"/>
<ellipse cx="410" cy="648" rx="13" ry="26" fill="url(#gmask)" opacity="0.7"/>
<ellipse cx="430" cy="652" rx="20" ry="22" fill="url(#gmask)" opacity="0.55"/>
<ellipse cx="436" cy="676" rx="28" ry="13" fill="url(#gmask)" opacity="0.85" transform="rotate(26 436 676)"/>
<ellipse cx="456" cy="697" rx="44" ry="27" fill="url(#gmask)" opacity="0.45"/>
<ellipse cx="464" cy="607" rx="8" ry="22" fill="url(#gmask)" opacity="0.16" transform="rotate(-18 464 607)"/>
</g>
<ellipse cx="458" cy="656" rx="44" ry="38" fill="url(#gmask)" filter="url(#dspeck)"/>
<g filter="url(#bl1)"><circle cx="356.0" cy="653.5" r="0.76" fill="rgb(184,9,20)" opacity="0.87"/><circle cx="510.0" cy="662.8" r="0.69" fill="rgb(237,10,55)" opacity="0.56"/><circle cx="410.4" cy="658.9" r="0.76" fill="rgb(151,10,27)" opacity="0.64"/><circle cx="447.3" cy="646.3" r="0.84" fill="rgb(219,34,27)" opacity="0.74"/><circle cx="497.4" cy="683.0" r="0.93" fill="rgb(237,13,36)" opacity="0.57"/><circle cx="509.4" cy="649.1" r="1.05" fill="rgb(151,18,27)" opacity="0.87"/><circle cx="395.2" cy="637.3" r="0.61" fill="rgb(148,14,20)" opacity="0.53"/><circle cx="478.9" cy="603.2" r="0.77" fill="rgb(181,29,19)" opacity="0.75"/><circle cx="394.2" cy="641.2" r="0.64" fill="rgb(228,47,24)" opacity="0.60"/><circle cx="386.4" cy="650.5" r="0.73" fill="rgb(169,8,26)" opacity="0.75"/><circle cx="510.9" cy="677.8" r="1.00" fill="rgb(202,29,19)" opacity="0.85"/><circle cx="497.3" cy="692.1" r="0.58" fill="rgb(181,10,33)" opacity="0.53"/><circle cx="363.6" cy="634.4" r="0.68" fill="rgb(227,32,24)" opacity="0.66"/><circle cx="517.8" cy="648.0" r="0.68" fill="rgb(154,9,23)" opacity="0.87"/><circle cx="495.4" cy="678.6" r="0.82" fill="rgb(178,11,36)" opacity="0.85"/><circle cx="487.6" cy="684.4" r="0.56" fill="rgb(192,18,18)" opacity="0.63"/><circle cx="511.2" cy="634.5" r="0.86" fill="rgb(166,11,21)" opacity="0.91"/><circle cx="491.4" cy="649.8" r="1.00" fill="rgb(219,11,43)" opacity="0.85"/><circle cx="475.8" cy="649.6" r="1.04" fill="rgb(218,20,48)" opacity="0.68"/><circle cx="375.4" cy="602.9" r="0.96" fill="rgb(230,41,24)" opacity="0.94"/><circle cx="459.7" cy="632.6" r="0.87" fill="rgb(157,8,34)" opacity="0.74"/><circle cx="488.9" cy="614.1" r="0.68" fill="rgb(172,13,30)" opacity="0.69"/><circle cx="438.0" cy="655.6" r="0.95" fill="rgb(185,12,18)" opacity="0.58"/><circle cx="402.4" cy="654.9" r="0.67" fill="rgb(218,11,39)" opacity="0.62"/><circle cx="479.6" cy="653.5" r="0.86" fill="rgb(216,41,34)" opacity="0.73"/><circle cx="491.3" cy="604.2" r="0.59" fill="rgb(185,9,24)" opacity="0.80"/><circle cx="481.6" cy="705.3" r="0.99" fill="rgb(211,31,23)" opacity="0.94"/><circle cx="373.9" cy="643.4" r="0.91" fill="rgb(176,12,25)" opacity="0.51"/><circle cx="441.9" cy="644.6" r="0.58" fill="rgb(175,22,29)" opacity="0.94"/><circle cx="482.4" cy="715.2" r="0.69" fill="rgb(169,8,34)" opacity="0.56"/><circle cx="444.7" cy="679.2" r="0.59" fill="rgb(151,17,24)" opacity="0.92"/><circle cx="455.8" cy="692.6" r="0.78" fill="rgb(225,10,52)" opacity="0.65"/><circle cx="368.4" cy="656.1" r="0.65" fill="rgb(156,10,18)" opacity="0.64"/><circle cx="432.5" cy="609.7" r="0.92" fill="rgb(148,11,18)" opacity="0.75"/><circle cx="456.0" cy="639.8" r="0.92" fill="rgb(151,9,19)" opacity="0.62"/><circle cx="496.6" cy="675.2" r="0.63" fill="rgb(167,13,27)" opacity="0.70"/><circle cx="399.6" cy="633.4" r="0.65" fill="rgb(180,19,30)" opacity="0.73"/><circle cx="346.9" cy="621.1" r="0.70" fill="rgb(181,9,18)" opacity="0.60"/><circle cx="413.4" cy="629.4" r="0.57" fill="rgb(159,20,29)" opacity="0.88"/><circle cx="500.3" cy="669.4" r="0.80" fill="rgb(221,13,38)" opacity="0.88"/><circle cx="500.5" cy="676.8" r="0.73" fill="rgb(166,8,20)" opacity="0.55"/><circle cx="490.6" cy="660.3" r="0.55" fill="rgb(203,29,33)" opacity="0.86"/><circle cx="475.4" cy="652.9" r="0.68" fill="rgb(206,10,42)" opacity="0.53"/><circle cx="412.2" cy="649.7" r="0.59" fill="rgb(216,30,41)" opacity="0.57"/><circle cx="444.2" cy="587.7" r="0.89" fill="rgb(169,21,32)" opacity="0.63"/><circle cx="435.4" cy="647.8" r="1.04" fill="rgb(156,22,21)" opacity="0.92"/><circle cx="513.5" cy="645.8" r="0.84" fill="rgb(164,25,21)" opacity="0.56"/><circle cx="436.7" cy="712.7" r="0.90" fill="rgb(221,27,52)" opacity="0.60"/><circle cx="501.3" cy="650.7" r="0.70" fill="rgb(147,14,23)" opacity="0.56"/><circle cx="405.5" cy="628.0" r="0.61" fill="rgb(147,17,28)" opacity="0.92"/><circle cx="410.4" cy="638.3" r="0.69" fill="rgb(199,19,31)" opacity="0.52"/><circle cx="507.9" cy="619.2" r="1.03" fill="rgb(192,13,28)" opacity="0.90"/><circle cx="476.2" cy="671.7" r="0.79" fill="rgb(150,21,19)" opacity="0.65"/><circle cx="442.4" cy="638.5" r="0.80" fill="rgb(160,11,33)" opacity="0.60"/><circle cx="370.2" cy="611.6" r="0.68" fill="rgb(176,10,23)" opacity="0.76"/><circle cx="499.5" cy="685.7" r="0.72" fill="rgb(183,21,27)" opacity="0.53"/><circle cx="383.4" cy="622.0" r="0.97" fill="rgb(181,19,41)" opacity="0.89"/><circle cx="501.0" cy="648.9" r="0.96" fill="rgb(146,13,29)" opacity="0.88"/><circle cx="514.2" cy="619.0" r="1.02" fill="rgb(159,17,29)" opacity="0.82"/><circle cx="456.1" cy="678.9" r="0.74" fill="rgb(152,15,26)" opacity="0.60"/><circle cx="498.9" cy="649.2" r="0.70" fill="rgb(168,27,32)" opacity="0.51"/><circle cx="418.8" cy="676.8" r="0.65" fill="rgb(219,36,37)" opacity="0.94"/><circle cx="510.7" cy="651.9" r="1.02" fill="rgb(165,16,30)" opacity="0.57"/><circle cx="370.6" cy="592.9" r="0.92" fill="rgb(181,30,39)" opacity="0.95"/><circle cx="507.2" cy="629.8" r="0.88" fill="rgb(233,39,19)" opacity="0.67"/><circle cx="410.7" cy="630.1" r="1.03" fill="rgb(147,11,22)" opacity="0.56"/><circle cx="488.1" cy="695.3" r="1.01" fill="rgb(150,14,23)" opacity="0.59"/><circle cx="409.0" cy="705.3" r="0.57" fill="rgb(182,28,37)" opacity="0.52"/><circle cx="389.4" cy="643.2" r="0.92" fill="rgb(232,15,52)" opacity="0.87"/><circle cx="479.7" cy="666.8" r="0.59" fill="rgb(174,16,35)" opacity="0.59"/><circle cx="476.2" cy="618.9" r="1.04" fill="rgb(149,15,22)" opacity="0.90"/><circle cx="516.9" cy="621.2" r="0.77" fill="rgb(154,15,29)" opacity="0.61"/><circle cx="444.1" cy="635.6" r="0.63" fill="rgb(163,12,22)" opacity="0.90"/><circle cx="446.0" cy="629.4" r="0.95" fill="rgb(239,30,28)" opacity="0.79"/><circle cx="353.0" cy="625.1" r="1.02" fill="rgb(162,25,28)" opacity="0.67"/><circle cx="495.8" cy="645.7" r="0.85" fill="rgb(217,43,21)" opacity="0.78"/><circle cx="383.7" cy="635.0" r="0.88" fill="rgb(164,12,29)" opacity="0.59"/><circle cx="378.0" cy="627.5" r="0.60" fill="rgb(219,28,20)" opacity="0.68"/><circle cx="441.2" cy="671.0" r="0.69" fill="rgb(160,20,25)" opacity="0.64"/><circle cx="407.8" cy="641.4" r="0.91" fill="rgb(239,24,26)" opacity="0.59"/><circle cx="425.7" cy="607.6" r="0.59" fill="rgb(195,27,45)" opacity="0.78"/><circle cx="410.2" cy="653.1" r="0.60" fill="rgb(171,19,37)" opacity="0.72"/><circle cx="485.2" cy="714.6" r="0.79" fill="rgb(157,23,34)" opacity="0.52"/><circle cx="453.3" cy="695.7" r="0.97" fill="rgb(218,16,33)" opacity="0.87"/><circle cx="435.6" cy="637.0" r="0.57" fill="rgb(168,22,36)" opacity="0.75"/><circle cx="454.5" cy="626.7" r="0.77" fill="rgb(198,21,38)" opacity="0.70"/><circle cx="511.5" cy="707.8" r="0.73" fill="rgb(218,43,20)" opacity="0.84"/><circle cx="505.1" cy="613.7" r="0.64" fill="rgb(191,17,19)" opacity="0.57"/><circle cx="497.0" cy="659.8" r="0.86" fill="rgb(228,12,58)" opacity="0.68"/><circle cx="445.9" cy="633.9" r="0.57" fill="rgb(185,12,37)" opacity="0.87"/><circle cx="447.4" cy="674.3" r="0.86" fill="rgb(147,8,19)" opacity="0.69"/><circle cx="434.7" cy="705.1" r="0.55" fill="rgb(166,20,18)" opacity="0.66"/><circle cx="364.4" cy="633.5" r="0.86" fill="rgb(199,26,24)" opacity="0.71"/><circle cx="496.7" cy="690.0" r="0.83" fill="rgb(169,8,31)" opacity="0.66"/><circle cx="376.2" cy="627.1" r="0.91" fill="rgb(150,20,29)" opacity="0.50"/><circle cx="492.1" cy="685.1" r="0.60" fill="rgb(214,24,26)" opacity="0.60"/><circle cx="482.4" cy="655.6" r="0.99" fill="rgb(204,39,25)" opacity="0.51"/><circle cx="509.4" cy="685.2" r="1.00" fill="rgb(227,21,27)" opacity="0.78"/><circle cx="494.4" cy="644.1" r="0.86" fill="rgb(197,17,24)" opacity="0.54"/><circle cx="503.6" cy="605.2" r="0.62" fill="rgb(155,22,23)" opacity="0.51"/><circle cx="466.6" cy="684.0" r="0.96" fill="rgb(199,19,43)" opacity="0.90"/><circle cx="509.4" cy="600.2" r="0.96" fill="rgb(156,8,31)" opacity="0.79"/><circle cx="488.7" cy="670.0" r="0.65" fill="rgb(155,9,29)" opacity="0.64"/><circle cx="493.3" cy="668.2" r="0.72" fill="rgb(183,19,37)" opacity="0.82"/><circle cx="431.0" cy="692.0" r="0.68" fill="rgb(190,17,41)" opacity="0.92"/><circle cx="482.1" cy="669.5" r="0.59" fill="rgb(181,17,40)" opacity="0.90"/><circle cx="501.9" cy="652.7" r="0.82" fill="rgb(228,17,36)" opacity="0.84"/><circle cx="476.3" cy="672.0" r="0.88" fill="rgb(175,11,37)" opacity="0.83"/><circle cx="375.3" cy="644.4" r="0.99" fill="rgb(198,11,32)" opacity="0.61"/><circle cx="379.1" cy="626.1" r="0.67" fill="rgb(224,14,24)" opacity="0.65"/><circle cx="472.9" cy="643.8" r="0.74" fill="rgb(204,11,24)" opacity="0.52"/><circle cx="463.6" cy="671.3" r="0.76" fill="rgb(173,21,20)" opacity="0.85"/><circle cx="469.4" cy="669.7" r="0.75" fill="rgb(184,19,33)" opacity="0.80"/><circle cx="480.6" cy="637.7" r="0.63" fill="rgb(237,9,41)" opacity="0.85"/><circle cx="508.7" cy="655.1" r="0.81" fill="rgb(198,24,39)" opacity="0.79"/><circle cx="489.4" cy="655.4" r="0.75" fill="rgb(234,17,47)" opacity="0.84"/><circle cx="466.8" cy="632.8" r="0.81" fill="rgb(166,22,36)" opacity="0.60"/><circle cx="484.7" cy="638.1" r="0.87" fill="rgb(157,20,31)" opacity="0.71"/><circle cx="487.2" cy="648.3" r="0.73" fill="rgb(195,11,42)" opacity="0.88"/><circle cx="392.3" cy="636.0" r="0.91" fill="rgb(184,12,18)" opacity="0.63"/><circle cx="388.4" cy="626.1" r="0.73" fill="rgb(184,24,34)" opacity="0.92"/><circle cx="502.7" cy="690.3" r="0.56" fill="rgb(223,32,18)" opacity="0.93"/><circle cx="459.5" cy="619.3" r="0.72" fill="rgb(158,11,31)" opacity="0.57"/><circle cx="502.4" cy="691.3" r="0.88" fill="rgb(229,33,50)" opacity="0.90"/><circle cx="482.3" cy="697.6" r="0.77" fill="rgb(209,26,43)" opacity="0.90"/><circle cx="442.0" cy="621.2" r="0.78" fill="rgb(158,16,18)" opacity="0.56"/><circle cx="431.0" cy="652.3" r="0.78" fill="rgb(226,8,51)" opacity="0.75"/><circle cx="418.5" cy="713.8" r="0.85" fill="rgb(204,28,18)" opacity="0.81"/><circle cx="382.5" cy="643.9" r="0.96" fill="rgb(196,32,26)" opacity="0.68"/><circle cx="433.1" cy="622.1" r="0.72" fill="rgb(237,36,52)" opacity="0.64"/><circle cx="499.2" cy="658.5" r="1.01" fill="rgb(172,8,22)" opacity="0.77"/><circle cx="482.1" cy="660.8" r="0.77" fill="rgb(172,17,24)" opacity="0.79"/><circle cx="382.7" cy="606.2" r="1.03" fill="rgb(147,16,19)" opacity="0.54"/><circle cx="496.4" cy="603.2" r="0.64" fill="rgb(212,16,43)" opacity="0.52"/><circle cx="445.5" cy="644.4" r="0.87" fill="rgb(159,21,24)" opacity="0.78"/><circle cx="418.3" cy="637.3" r="0.70" fill="rgb(234,41,42)" opacity="0.53"/><circle cx="489.8" cy="666.0" r="0.89" fill="rgb(184,30,27)" opacity="0.77"/><circle cx="501.0" cy="693.4" r="0.84" fill="rgb(147,11,23)" opacity="0.87"/><circle cx="426.5" cy="613.5" r="0.59" fill="rgb(215,36,34)" opacity="0.86"/><circle cx="428.4" cy="664.4" r="0.73" fill="rgb(163,11,30)" opacity="0.75"/><circle cx="415.6" cy="654.8" r="0.60" fill="rgb(150,22,23)" opacity="0.78"/><circle cx="405.7" cy="655.1" r="0.79" fill="rgb(149,21,29)" opacity="0.76"/><circle cx="512.7" cy="619.8" r="0.58" fill="rgb(163,11,19)" opacity="0.75"/><circle cx="511.5" cy="675.1" r="1.05" fill="rgb(186,12,43)" opacity="0.60"/><circle cx="457.9" cy="717.1" r="0.89" fill="rgb(159,20,33)" opacity="0.63"/><circle cx="448.3" cy="686.8" r="0.79" fill="rgb(174,13,20)" opacity="0.58"/><circle cx="370.2" cy="645.5" r="0.78" fill="rgb(232,43,44)" opacity="0.65"/><circle cx="488.4" cy="649.5" r="0.91" fill="rgb(158,11,18)" opacity="0.75"/><circle cx="417.2" cy="606.7" r="0.80" fill="rgb(223,21,24)" opacity="0.64"/><circle cx="382.5" cy="649.5" r="1.05" fill="rgb(168,12,25)" opacity="0.95"/><circle cx="485.6" cy="631.3" r="0.64" fill="rgb(147,18,24)" opacity="0.70"/><circle cx="469.1" cy="612.2" r="0.69" fill="rgb(154,17,25)" opacity="0.59"/><circle cx="446.8" cy="612.9" r="0.58" fill="rgb(213,22,43)" opacity="0.86"/><circle cx="374.3" cy="635.4" r="0.81" fill="rgb(147,14,23)" opacity="0.55"/><circle cx="511.1" cy="651.8" r="1.03" fill="rgb(193,23,18)" opacity="0.60"/><circle cx="487.4" cy="590.0" r="0.85" fill="rgb(210,14,18)" opacity="0.76"/><circle cx="436.5" cy="679.5" r="0.61" fill="rgb(226,37,19)" opacity="0.72"/><circle cx="432.6" cy="623.2" r="0.98" fill="rgb(182,11,32)" opacity="0.57"/><circle cx="445.1" cy="685.3" r="0.76" fill="rgb(222,44,33)" opacity="0.88"/><circle cx="436.9" cy="638.6" r="0.72" fill="rgb(217,20,26)" opacity="0.70"/><circle cx="487.0" cy="698.7" r="0.67" fill="rgb(192,35,44)" opacity="0.69"/><circle cx="455.5" cy="634.5" r="0.56" fill="rgb(152,14,25)" opacity="0.56"/><circle cx="389.4" cy="655.2" r="0.87" fill="rgb(235,20,31)" opacity="0.55"/><circle cx="392.4" cy="648.0" r="0.70" fill="rgb(159,10,20)" opacity="0.68"/><circle cx="395.9" cy="618.4" r="0.84" fill="rgb(195,32,36)" opacity="0.79"/><circle cx="399.7" cy="618.2" r="0.56" fill="rgb(192,18,34)" opacity="0.66"/><circle cx="431.0" cy="623.9" r="0.58" fill="rgb(172,24,21)" opacity="0.89"/><circle cx="422.1" cy="683.8" r="0.63" fill="rgb(166,26,32)" opacity="0.65"/><circle cx="451.1" cy="636.5" r="0.75" fill="rgb(187,27,25)" opacity="0.75"/><circle cx="412.5" cy="628.8" r="0.64" fill="rgb(224,27,35)" opacity="0.64"/><circle cx="381.3" cy="642.7" r="0.80" fill="rgb(147,8,25)" opacity="0.91"/><circle cx="413.4" cy="633.6" r="0.81" fill="rgb(177,30,33)" opacity="0.54"/><circle cx="410.8" cy="639.3" r="0.79" fill="rgb(198,34,47)" opacity="0.70"/><circle cx="437.7" cy="694.5" r="0.81" fill="rgb(174,29,36)" opacity="0.55"/><circle cx="373.1" cy="624.6" r="0.87" fill="rgb(191,13,23)" opacity="0.77"/><circle cx="399.1" cy="677.9" r="0.88" fill="rgb(173,26,30)" opacity="0.59"/><circle cx="432.1" cy="659.6" r="0.84" fill="rgb(205,25,50)" opacity="0.68"/><circle cx="485.5" cy="594.3" r="0.73" fill="rgb(217,19,44)" opacity="0.58"/><circle cx="446.7" cy="632.4" r="0.84" fill="rgb(180,9,39)" opacity="0.93"/><circle cx="422.1" cy="668.5" r="0.71" fill="rgb(150,21,29)" opacity="0.90"/><circle cx="487.2" cy="626.4" r="0.67" fill="rgb(235,29,59)" opacity="0.68"/><circle cx="470.3" cy="615.4" r="0.67" fill="rgb(227,27,50)" opacity="0.58"/><circle cx="438.3" cy="637.3" r="0.73" fill="rgb(152,9,30)" opacity="0.61"/><circle cx="379.1" cy="623.7" r="0.63" fill="rgb(149,17,22)" opacity="0.82"/><circle cx="385.3" cy="646.2" r="0.84" fill="rgb(210,17,49)" opacity="0.67"/><circle cx="439.9" cy="622.0" r="0.71" fill="rgb(180,24,31)" opacity="0.68"/><circle cx="401.5" cy="674.1" r="0.70" fill="rgb(196,18,33)" opacity="0.53"/><circle cx="399.9" cy="616.1" r="1.00" fill="rgb(211,17,32)" opacity="0.85"/><circle cx="498.7" cy="700.6" r="0.88" fill="rgb(170,8,32)" opacity="0.66"/><circle cx="454.8" cy="610.2" r="0.57" fill="rgb(231,38,47)" opacity="0.52"/><circle cx="444.6" cy="681.3" r="0.55" fill="rgb(185,25,27)" opacity="0.88"/><circle cx="480.3" cy="624.1" r="0.67" fill="rgb(225,32,19)" opacity="0.55"/><circle cx="467.6" cy="693.2" r="0.82" fill="rgb(195,36,36)" opacity="0.61"/><circle cx="380.8" cy="627.3" r="0.67" fill="rgb(210,31,26)" opacity="0.73"/><circle cx="443.4" cy="630.4" r="0.88" fill="rgb(195,30,23)" opacity="0.77"/><circle cx="365.8" cy="624.5" r="0.65" fill="rgb(164,9,23)" opacity="0.82"/><circle cx="427.1" cy="634.3" r="0.93" fill="rgb(152,8,32)" opacity="0.54"/><circle cx="378.8" cy="658.2" r="1.02" fill="rgb(231,35,44)" opacity="0.79"/><circle cx="389.5" cy="618.7" r="0.70" fill="rgb(149,18,29)" opacity="0.58"/><circle cx="474.4" cy="629.4" r="0.83" fill="rgb(222,20,32)" opacity="0.67"/><circle cx="489.8" cy="617.8" r="0.90" fill="rgb(197,27,42)" opacity="0.91"/><circle cx="509.5" cy="651.8" r="0.59" fill="rgb(160,13,28)" opacity="0.81"/><circle cx="379.0" cy="682.2" r="0.76" fill="rgb(224,41,49)" opacity="0.63"/><circle cx="460.5" cy="654.4" r="0.96" fill="rgb(176,18,33)" opacity="0.91"/><circle cx="374.5" cy="625.3" r="0.59" fill="rgb(197,18,23)" opacity="0.65"/><circle cx="453.2" cy="693.9" r="0.84" fill="rgb(207,28,28)" opacity="0.93"/><circle cx="429.2" cy="672.1" r="0.64" fill="rgb(176,28,18)" opacity="0.81"/><circle cx="437.7" cy="661.1" r="0.82" fill="rgb(156,10,32)" opacity="0.55"/><circle cx="495.2" cy="619.7" r="0.83" fill="rgb(194,15,32)" opacity="0.60"/><circle cx="510.0" cy="682.0" r="0.95" fill="rgb(200,11,35)" opacity="0.55"/><circle cx="506.1" cy="675.8" r="0.84" fill="rgb(163,16,33)" opacity="0.55"/><circle cx="464.9" cy="636.6" r="0.95" fill="rgb(227,29,46)" opacity="0.93"/><circle cx="463.6" cy="638.2" r="0.99" fill="rgb(160,22,24)" opacity="0.77"/><circle cx="500.7" cy="664.4" r="0.84" fill="rgb(161,14,26)" opacity="0.67"/><circle cx="462.1" cy="622.3" r="0.81" fill="rgb(191,15,33)" opacity="0.93"/><circle cx="455.5" cy="670.4" r="1.02" fill="rgb(171,24,36)" opacity="0.81"/><circle cx="441.3" cy="640.0" r="0.79" fill="rgb(176,15,40)" opacity="0.67"/><circle cx="388.1" cy="617.2" r="0.78" fill="rgb(158,8,32)" opacity="0.70"/><circle cx="444.4" cy="626.2" r="0.91" fill="rgb(152,12,22)" opacity="0.75"/><circle cx="393.7" cy="620.3" r="0.66" fill="rgb(160,12,30)" opacity="0.68"/><circle cx="512.6" cy="665.9" r="0.62" fill="rgb(220,41,31)" opacity="0.58"/><circle cx="505.7" cy="614.2" r="0.89" fill="rgb(215,31,32)" opacity="0.65"/><circle cx="355.9" cy="641.1" r="0.85" fill="rgb(203,18,33)" opacity="0.62"/><circle cx="443.6" cy="717.3" r="0.60" fill="rgb(201,31,28)" opacity="0.57"/><circle cx="486.8" cy="642.3" r="0.85" fill="rgb(199,25,38)" opacity="0.65"/><circle cx="478.1" cy="689.2" r="0.69" fill="rgb(217,44,34)" opacity="0.74"/><circle cx="508.8" cy="603.5" r="0.73" fill="rgb(188,25,39)" opacity="0.95"/><circle cx="350.8" cy="603.8" r="1.02" fill="rgb(191,23,23)" opacity="0.66"/><circle cx="505.4" cy="607.6" r="0.80" fill="rgb(217,17,54)" opacity="0.79"/><circle cx="402.0" cy="706.2" r="0.75" fill="rgb(213,10,41)" opacity="0.89"/><circle cx="384.8" cy="619.5" r="0.93" fill="rgb(184,14,23)" opacity="0.79"/><circle cx="488.3" cy="623.6" r="0.89" fill="rgb(189,32,22)" opacity="0.77"/><circle cx="480.9" cy="700.8" r="0.56" fill="rgb(226,48,29)" opacity="0.55"/><circle cx="498.6" cy="716.3" r="0.57" fill="rgb(166,23,31)" opacity="0.73"/><circle cx="386.1" cy="643.3" r="0.99" fill="rgb(148,21,22)" opacity="0.55"/><circle cx="473.7" cy="652.6" r="0.72" fill="rgb(177,19,39)" opacity="0.60"/><circle cx="393.2" cy="609.6" r="0.75" fill="rgb(152,8,25)" opacity="0.75"/><circle cx="459.0" cy="658.3" r="0.91" fill="rgb(209,41,48)" opacity="0.68"/><circle cx="401.1" cy="641.7" r="0.62" fill="rgb(180,17,28)" opacity="0.95"/><circle cx="387.7" cy="612.4" r="0.57" fill="rgb(224,39,53)" opacity="0.81"/><circle cx="400.6" cy="715.2" r="0.85" fill="rgb(214,38,36)" opacity="0.95"/><circle cx="503.2" cy="648.9" r="0.62" fill="rgb(193,21,24)" opacity="0.92"/><circle cx="437.5" cy="655.7" r="0.96" fill="rgb(221,17,24)" opacity="0.71"/><circle cx="490.0" cy="694.8" r="0.73" fill="rgb(159,12,19)" opacity="0.86"/><circle cx="436.2" cy="646.2" r="0.77" fill="rgb(181,32,35)" opacity="0.72"/><circle cx="484.1" cy="686.9" r="0.67" fill="rgb(208,20,35)" opacity="0.67"/><circle cx="404.8" cy="636.7" r="0.64" fill="rgb(163,18,19)" opacity="0.82"/><circle cx="393.5" cy="629.1" r="0.98" fill="rgb(223,11,42)" opacity="0.59"/><circle cx="407.0" cy="637.3" r="0.91" fill="rgb(232,16,59)" opacity="0.67"/><circle cx="461.1" cy="629.8" r="0.80" fill="rgb(215,21,37)" opacity="0.91"/><circle cx="426.0" cy="647.5" r="0.77" fill="rgb(183,20,40)" opacity="0.72"/><circle cx="474.1" cy="639.4" r="0.93" fill="rgb(208,26,44)" opacity="0.55"/><circle cx="469.0" cy="650.2" r="1.05" fill="rgb(209,22,38)" opacity="0.87"/><circle cx="393.5" cy="620.9" r="0.81" fill="rgb(168,25,29)" opacity="0.69"/><circle cx="484.7" cy="699.9" r="0.74" fill="rgb(164,8,28)" opacity="0.71"/><circle cx="430.6" cy="663.6" r="0.83" fill="rgb(220,15,53)" opacity="0.52"/><circle cx="400.4" cy="656.9" r="0.95" fill="rgb(197,17,26)" opacity="0.63"/><circle cx="402.1" cy="697.9" r="0.57" fill="rgb(219,45,32)" opacity="0.67"/><circle cx="420.4" cy="676.3" r="1.05" fill="rgb(222,12,54)" opacity="0.92"/><circle cx="437.1" cy="624.7" r="0.60" fill="rgb(215,26,51)" opacity="0.72"/><circle cx="495.5" cy="665.5" r="1.00" fill="rgb(154,10,22)" opacity="0.88"/><circle cx="509.4" cy="673.3" r="0.92" fill="rgb(175,18,23)" opacity="0.58"/><circle cx="482.3" cy="625.7" r="0.94" fill="rgb(196,10,34)" opacity="0.77"/><circle cx="446.0" cy="632.9" r="1.02" fill="rgb(206,13,23)" opacity="0.65"/><circle cx="366.3" cy="648.2" r="0.65" fill="rgb(194,22,28)" opacity="0.68"/><circle cx="435.6" cy="624.8" r="0.85" fill="rgb(153,16,21)" opacity="0.85"/><circle cx="449.7" cy="716.7" r="0.72" fill="rgb(202,30,44)" opacity="0.86"/><circle cx="425.9" cy="708.5" r="0.59" fill="rgb(233,25,35)" opacity="0.61"/><circle cx="472.9" cy="676.3" r="0.66" fill="rgb(176,11,22)" opacity="0.65"/><circle cx="503.1" cy="685.9" r="0.94" fill="rgb(163,19,33)" opacity="0.54"/><circle cx="470.1" cy="632.4" r="0.62" fill="rgb(236,37,50)" opacity="0.87"/><circle cx="438.0" cy="711.8" r="0.97" fill="rgb(236,42,29)" opacity="0.60"/><circle cx="380.3" cy="646.9" r="0.91" fill="rgb(190,33,37)" opacity="0.68"/><circle cx="508.9" cy="695.8" r="0.72" fill="rgb(154,17,30)" opacity="0.77"/><circle cx="490.7" cy="691.5" r="0.96" fill="rgb(190,8,21)" opacity="0.69"/><circle cx="450.6" cy="646.8" r="0.86" fill="rgb(165,14,34)" opacity="0.63"/><circle cx="488.4" cy="610.5" r="0.99" fill="rgb(235,23,27)" opacity="0.77"/><circle cx="500.6" cy="638.4" r="0.64" fill="rgb(235,30,60)" opacity="0.87"/><circle cx="374.1" cy="656.1" r="0.95" fill="rgb(161,24,26)" opacity="0.61"/><circle cx="495.2" cy="654.3" r="0.59" fill="rgb(232,45,46)" opacity="0.78"/><circle cx="460.4" cy="670.0" r="0.80" fill="rgb(193,27,44)" opacity="0.66"/><circle cx="464.3" cy="660.1" r="0.92" fill="rgb(215,40,44)" opacity="0.52"/><circle cx="475.3" cy="671.3" r="0.76" fill="rgb(216,18,38)" opacity="0.94"/><circle cx="465.5" cy="622.9" r="0.72" fill="rgb(198,33,42)" opacity="0.56"/><circle cx="435.3" cy="702.7" r="0.58" fill="rgb(213,14,29)" opacity="0.63"/><circle cx="380.1" cy="628.7" r="0.74" fill="rgb(155,12,24)" opacity="0.93"/><circle cx="480.7" cy="627.9" r="0.89" fill="rgb(215,25,38)" opacity="0.84"/><circle cx="393.6" cy="634.2" r="0.68" fill="rgb(193,16,36)" opacity="0.85"/><circle cx="476.4" cy="676.2" r="0.87" fill="rgb(220,12,29)" opacity="0.94"/><circle cx="405.1" cy="638.2" r="0.82" fill="rgb(177,12,38)" opacity="0.73"/><circle cx="461.8" cy="705.9" r="0.80" fill="rgb(176,9,27)" opacity="0.88"/><circle cx="461.5" cy="662.9" r="0.94" fill="rgb(198,16,43)" opacity="0.88"/><circle cx="467.8" cy="667.4" r="0.69" fill="rgb(152,16,30)" opacity="0.60"/><circle cx="514.6" cy="692.7" r="0.71" fill="rgb(210,10,47)" opacity="0.50"/><circle cx="404.8" cy="630.0" r="0.97" fill="rgb(165,23,22)" opacity="0.86"/><circle cx="447.2" cy="639.2" r="1.05" fill="rgb(199,15,44)" opacity="0.86"/><circle cx="358.3" cy="649.6" r="0.78" fill="rgb(186,26,36)" opacity="0.65"/><circle cx="378.9" cy="639.6" r="0.77" fill="rgb(163,21,27)" opacity="0.59"/><circle cx="467.7" cy="612.2" r="0.92" fill="rgb(196,29,47)" opacity="0.93"/><circle cx="356.9" cy="613.4" r="0.68" fill="rgb(226,37,43)" opacity="0.66"/><circle cx="424.7" cy="599.6" r="1.05" fill="rgb(159,21,26)" opacity="0.91"/><circle cx="433.9" cy="613.8" r="1.02" fill="rgb(148,20,27)" opacity="0.94"/><circle cx="486.5" cy="697.9" r="0.74" fill="rgb(147,10,25)" opacity="0.50"/><circle cx="489.6" cy="690.5" r="0.59" fill="rgb(150,20,25)" opacity="0.65"/><circle cx="456.6" cy="613.4" r="0.85" fill="rgb(230,23,22)" opacity="0.56"/><circle cx="380.6" cy="646.7" r="0.58" fill="rgb(204,31,32)" opacity="0.83"/><circle cx="462.4" cy="680.9" r="0.62" fill="rgb(205,30,33)" opacity="0.91"/><circle cx="474.3" cy="591.1" r="0.57" fill="rgb(237,43,19)" opacity="0.61"/><circle cx="391.5" cy="606.4" r="0.90" fill="rgb(215,11,53)" opacity="0.58"/><circle cx="396.3" cy="638.8" r="0.96" fill="rgb(214,8,48)" opacity="0.71"/><circle cx="440.5" cy="632.9" r="0.60" fill="rgb(213,38,48)" opacity="0.67"/><circle cx="398.4" cy="687.4" r="0.55" fill="rgb(201,38,42)" opacity="0.53"/><circle cx="436.0" cy="646.6" r="0.92" fill="rgb(201,28,47)" opacity="0.86"/><circle cx="389.7" cy="626.0" r="1.04" fill="rgb(174,10,27)" opacity="0.79"/><circle cx="518.0" cy="686.1" r="0.67" fill="rgb(168,16,18)" opacity="0.90"/><circle cx="438.9" cy="714.4" r="1.02" fill="rgb(194,26,33)" opacity="0.68"/><circle cx="469.8" cy="717.6" r="0.92" fill="rgb(185,25,36)" opacity="0.84"/><circle cx="389.0" cy="620.2" r="1.03" fill="rgb(209,15,26)" opacity="0.79"/><circle cx="466.2" cy="626.4" r="0.62" fill="rgb(152,8,23)" opacity="0.55"/><circle cx="462.0" cy="622.9" r="0.88" fill="rgb(163,24,20)" opacity="0.76"/><circle cx="460.4" cy="610.0" r="0.88" fill="rgb(155,23,23)" opacity="0.76"/><circle cx="384.6" cy="594.6" r="0.73" fill="rgb(225,13,56)" opacity="0.83"/><circle cx="409.4" cy="655.6" r="0.74" fill="rgb(168,24,23)" opacity="0.84"/><circle cx="384.7" cy="611.8" r="0.79" fill="rgb(180,16,33)" opacity="0.89"/><circle cx="436.8" cy="617.9" r="0.68" fill="rgb(226,16,21)" opacity="0.92"/><circle cx="425.7" cy="683.3" r="0.88" fill="rgb(186,16,23)" opacity="0.66"/><circle cx="474.1" cy="657.4" r="0.62" fill="rgb(191,24,36)" opacity="0.86"/><circle cx="360.2" cy="614.9" r="0.92" fill="rgb(185,11,23)" opacity="0.76"/><circle cx="518.9" cy="646.7" r="0.72" fill="rgb(236,22,35)" opacity="0.80"/><circle cx="390.6" cy="646.4" r="0.61" fill="rgb(211,12,26)" opacity="0.93"/><circle cx="446.6" cy="703.9" r="0.78" fill="rgb(166,11,29)" opacity="0.68"/><circle cx="485.6" cy="672.9" r="0.84" fill="rgb(156,11,28)" opacity="0.86"/><circle cx="501.5" cy="714.0" r="0.64" fill="rgb(153,21,26)" opacity="0.81"/><circle cx="390.2" cy="617.5" r="0.92" fill="rgb(193,27,20)" opacity="0.78"/><circle cx="468.7" cy="672.1" r="0.77" fill="rgb(235,42,28)" opacity="0.93"/><circle cx="381.8" cy="640.4" r="0.73" fill="rgb(229,17,48)" opacity="0.80"/><circle cx="478.7" cy="603.0" r="0.62" fill="rgb(165,13,18)" opacity="0.68"/><circle cx="509.0" cy="662.7" r="0.79" fill="rgb(210,23,24)" opacity="0.51"/><circle cx="447.9" cy="612.4" r="0.59" fill="rgb(194,29,25)" opacity="0.50"/><circle cx="376.0" cy="678.6" r="1.04" fill="rgb(166,13,31)" opacity="0.51"/><circle cx="371.7" cy="630.6" r="0.68" fill="rgb(174,17,28)" opacity="0.52"/><circle cx="454.0" cy="678.7" r="0.80" fill="rgb(219,35,30)" opacity="0.58"/><circle cx="506.7" cy="660.5" r="0.91" fill="rgb(159,19,24)" opacity="0.60"/><circle cx="483.9" cy="692.7" r="0.95" fill="rgb(199,13,39)" opacity="0.86"/><circle cx="443.7" cy="604.4" r="0.67" fill="rgb(198,11,37)" opacity="0.62"/><circle cx="483.4" cy="627.2" r="0.59" fill="rgb(212,9,39)" opacity="0.52"/><circle cx="497.8" cy="647.4" r="0.73" fill="rgb(156,16,26)" opacity="0.82"/><circle cx="437.6" cy="689.1" r="0.68" fill="rgb(152,13,25)" opacity="0.80"/><circle cx="384.4" cy="628.3" r="0.77" fill="rgb(211,35,31)" opacity="0.92"/><circle cx="507.6" cy="668.3" r="0.57" fill="rgb(186,24,25)" opacity="0.94"/><circle cx="453.1" cy="625.9" r="0.59" fill="rgb(215,36,33)" opacity="0.68"/><circle cx="438.0" cy="696.8" r="0.72" fill="rgb(161,21,25)" opacity="0.56"/><circle cx="450.5" cy="624.4" r="0.65" fill="rgb(211,33,22)" opacity="0.93"/><circle cx="388.9" cy="619.9" r="0.71" fill="rgb(239,14,56)" opacity="0.58"/><circle cx="474.8" cy="631.4" r="0.84" fill="rgb(183,28,39)" opacity="0.50"/><circle cx="487.7" cy="621.4" r="0.61" fill="rgb(179,16,27)" opacity="0.60"/><circle cx="503.3" cy="640.6" r="1.01" fill="rgb(228,39,28)" opacity="0.86"/><circle cx="411.9" cy="697.7" r="0.72" fill="rgb(194,17,42)" opacity="0.88"/><circle cx="492.7" cy="702.9" r="0.88" fill="rgb(233,39,47)" opacity="0.52"/><circle cx="496.5" cy="658.9" r="0.98" fill="rgb(176,25,35)" opacity="0.60"/><circle cx="404.9" cy="619.2" r="0.66" fill="rgb(175,8,35)" opacity="0.53"/><circle cx="425.9" cy="639.4" r="1.00" fill="rgb(235,21,45)" opacity="0.71"/><circle cx="501.6" cy="683.6" r="0.84" fill="rgb(227,31,22)" opacity="0.87"/><circle cx="435.7" cy="650.4" r="0.73" fill="rgb(227,35,26)" opacity="0.66"/><circle cx="511.8" cy="678.6" r="0.77" fill="rgb(231,9,42)" opacity="0.82"/><circle cx="487.9" cy="690.9" r="0.66" fill="rgb(165,22,33)" opacity="0.90"/><circle cx="517.7" cy="643.7" r="0.70" fill="rgb(211,40,25)" opacity="0.65"/><circle cx="432.6" cy="674.9" r="0.95" fill="rgb(235,51,42)" opacity="0.58"/><circle cx="503.5" cy="659.3" r="0.65" fill="rgb(226,22,55)" opacity="0.51"/><circle cx="485.0" cy="642.4" r="0.81" fill="rgb(169,13,26)" opacity="0.71"/><circle cx="470.0" cy="685.5" r="0.85" fill="rgb(168,18,21)" opacity="0.91"/><circle cx="478.6" cy="618.6" r="0.70" fill="rgb(160,15,28)" opacity="0.57"/><circle cx="400.6" cy="653.1" r="0.79" fill="rgb(189,20,44)" opacity="0.93"/><circle cx="371.0" cy="608.5" r="0.73" fill="rgb(210,41,32)" opacity="0.69"/><circle cx="415.5" cy="643.5" r="1.02" fill="rgb(196,27,39)" opacity="0.57"/><circle cx="448.1" cy="676.1" r="0.64" fill="rgb(234,31,35)" opacity="0.55"/><circle cx="501.3" cy="692.5" r="0.73" fill="rgb(174,18,29)" opacity="0.90"/><circle cx="456.6" cy="649.4" r="0.68" fill="rgb(180,22,37)" opacity="0.67"/><circle cx="413.1" cy="634.3" r="0.96" fill="rgb(194,16,27)" opacity="0.57"/><circle cx="365.4" cy="607.5" r="0.73" fill="rgb(201,29,48)" opacity="0.94"/><circle cx="421.2" cy="638.0" r="0.90" fill="rgb(166,27,37)" opacity="0.58"/><circle cx="482.8" cy="662.6" r="0.75" fill="rgb(228,32,31)" opacity="0.92"/><circle cx="482.0" cy="654.5" r="0.83" fill="rgb(219,23,43)" opacity="0.83"/><circle cx="506.7" cy="667.8" r="0.95" fill="rgb(179,14,39)" opacity="0.85"/><circle cx="430.6" cy="622.6" r="0.62" fill="rgb(153,22,29)" opacity="0.84"/><circle cx="419.9" cy="710.1" r="0.61" fill="rgb(217,11,28)" opacity="0.89"/><circle cx="472.3" cy="672.3" r="0.88" fill="rgb(190,28,23)" opacity="0.63"/><circle cx="485.9" cy="686.9" r="0.79" fill="rgb(226,24,56)" opacity="0.55"/><circle cx="411.1" cy="619.1" r="0.98" fill="rgb(149,14,19)" opacity="0.90"/><circle cx="470.3" cy="683.0" r="0.96" fill="rgb(233,15,23)" opacity="0.55"/><circle cx="378.2" cy="652.5" r="0.94" fill="rgb(160,24,26)" opacity="0.61"/><circle cx="386.1" cy="647.6" r="0.89" fill="rgb(236,48,25)" opacity="0.75"/><circle cx="416.1" cy="608.3" r="0.73" fill="rgb(188,21,25)" opacity="0.75"/><circle cx="477.8" cy="664.4" r="1.04" fill="rgb(228,23,57)" opacity="0.56"/><circle cx="440.7" cy="627.7" r="0.86" fill="rgb(164,10,23)" opacity="0.75"/><circle cx="510.0" cy="677.2" r="0.98" fill="rgb(234,35,41)" opacity="0.80"/><circle cx="381.6" cy="653.5" r="1.01" fill="rgb(223,34,44)" opacity="0.95"/><circle cx="463.3" cy="680.9" r="0.71" fill="rgb(150,14,31)" opacity="0.76"/><circle cx="448.0" cy="695.6" r="0.60" fill="rgb(164,11,33)" opacity="0.92"/><circle cx="370.5" cy="607.0" r="0.80" fill="rgb(199,32,22)" opacity="0.76"/><circle cx="443.0" cy="640.9" r="0.67" fill="rgb(148,8,23)" opacity="0.84"/><circle cx="377.3" cy="595.2" r="0.76" fill="rgb(175,10,32)" opacity="0.64"/><circle cx="372.8" cy="626.6" r="0.63" fill="rgb(230,37,35)" opacity="0.52"/><circle cx="433.7" cy="630.6" r="0.63" fill="rgb(214,33,36)" opacity="0.80"/><circle cx="421.0" cy="673.9" r="0.75" fill="rgb(230,8,27)" opacity="0.59"/><circle cx="403.9" cy="621.4" r="0.77" fill="rgb(165,15,31)" opacity="0.57"/><circle cx="507.6" cy="694.3" r="0.89" fill="rgb(158,16,20)" opacity="0.81"/><circle cx="446.0" cy="715.8" r="0.71" fill="rgb(211,36,21)" opacity="0.52"/><circle cx="466.3" cy="634.8" r="0.55" fill="rgb(170,28,27)" opacity="0.54"/><circle cx="365.9" cy="636.6" r="0.99" fill="rgb(147,8,22)" opacity="0.95"/><circle cx="404.4" cy="635.7" r="0.80" fill="rgb(199,14,26)" opacity="0.73"/><circle cx="418.4" cy="674.3" r="0.90" fill="rgb(194,16,40)" opacity="0.85"/><circle cx="434.4" cy="635.9" r="0.79" fill="rgb(182,25,38)" opacity="0.83"/><circle cx="382.8" cy="646.1" r="0.92" fill="rgb(173,15,34)" opacity="0.59"/><circle cx="385.7" cy="630.8" r="0.73" fill="rgb(219,35,36)" opacity="0.62"/><circle cx="492.8" cy="701.4" r="0.64" fill="rgb(183,16,42)" opacity="0.57"/><circle cx="422.0" cy="638.9" r="0.74" fill="rgb(168,8,25)" opacity="0.50"/><circle cx="463.6" cy="669.1" r="0.70" fill="rgb(148,17,26)" opacity="0.59"/><circle cx="494.0" cy="706.9" r="0.57" fill="rgb(199,25,27)" opacity="0.65"/><circle cx="418.0" cy="634.3" r="0.98" fill="rgb(156,23,21)" opacity="0.61"/><circle cx="447.6" cy="636.2" r="0.94" fill="rgb(219,38,28)" opacity="0.72"/><circle cx="491.7" cy="658.9" r="0.93" fill="rgb(219,11,27)" opacity="0.70"/><circle cx="382.8" cy="586.3" r="0.80" fill="rgb(154,13,24)" opacity="0.63"/><circle cx="497.8" cy="633.6" r="0.59" fill="rgb(201,25,27)" opacity="0.93"/><circle cx="438.0" cy="629.6" r="1.03" fill="rgb(224,21,34)" opacity="0.66"/><circle cx="461.0" cy="645.4" r="0.97" fill="rgb(166,23,26)" opacity="0.67"/><circle cx="432.0" cy="648.8" r="0.68" fill="rgb(161,19,30)" opacity="0.79"/><circle cx="434.1" cy="627.8" r="0.62" fill="rgb(158,16,28)" opacity="0.64"/><circle cx="480.9" cy="662.0" r="0.93" fill="rgb(185,29,32)" opacity="0.66"/><circle cx="489.6" cy="677.6" r="0.72" fill="rgb(226,16,54)" opacity="0.51"/><circle cx="404.2" cy="594.8" r="0.70" fill="rgb(202,11,23)" opacity="0.63"/><circle cx="472.7" cy="616.3" r="0.98" fill="rgb(232,31,43)" opacity="0.56"/><circle cx="409.7" cy="653.8" r="0.99" fill="rgb(149,18,28)" opacity="0.66"/><circle cx="382.3" cy="632.2" r="0.63" fill="rgb(206,21,35)" opacity="0.91"/><circle cx="456.0" cy="650.2" r="0.55" fill="rgb(198,14,31)" opacity="0.86"/><circle cx="450.1" cy="669.3" r="0.94" fill="rgb(217,18,50)" opacity="0.81"/><circle cx="487.0" cy="644.1" r="0.76" fill="rgb(235,16,22)" opacity="0.73"/><circle cx="413.1" cy="605.8" r="0.82" fill="rgb(198,13,32)" opacity="0.70"/><circle cx="433.1" cy="697.3" r="0.93" fill="rgb(232,16,19)" opacity="0.76"/><circle cx="445.1" cy="672.2" r="0.90" fill="rgb(189,9,35)" opacity="0.57"/><circle cx="441.3" cy="683.5" r="0.67" fill="rgb(223,42,19)" opacity="0.54"/><circle cx="389.3" cy="625.9" r="0.61" fill="rgb(179,26,35)" opacity="0.60"/><circle cx="347.4" cy="629.8" r="0.65" fill="rgb(209,34,52)" opacity="0.52"/><circle cx="413.9" cy="627.6" r="0.77" fill="rgb(234,30,37)" opacity="0.85"/><circle cx="489.7" cy="649.3" r="0.88" fill="rgb(182,30,28)" opacity="0.75"/><circle cx="425.8" cy="662.5" r="0.73" fill="rgb(196,33,20)" opacity="0.90"/><circle cx="459.6" cy="673.5" r="0.72" fill="rgb(185,16,33)" opacity="0.56"/><circle cx="409.8" cy="609.9" r="0.81" fill="rgb(191,19,21)" opacity="0.64"/><circle cx="513.3" cy="637.0" r="0.87" fill="rgb(166,26,24)" opacity="0.87"/><circle cx="478.0" cy="622.7" r="1.00" fill="rgb(192,20,44)" opacity="0.61"/><circle cx="443.0" cy="641.4" r="0.84" fill="rgb(185,32,25)" opacity="0.82"/><circle cx="398.2" cy="681.2" r="0.56" fill="rgb(179,11,29)" opacity="0.57"/><circle cx="384.5" cy="596.8" r="0.96" fill="rgb(163,17,20)" opacity="0.69"/><circle cx="509.4" cy="640.3" r="0.90" fill="rgb(226,12,20)" opacity="0.76"/><circle cx="470.7" cy="622.9" r="0.84" fill="rgb(162,15,23)" opacity="0.63"/><circle cx="484.6" cy="651.9" r="0.91" fill="rgb(156,16,26)" opacity="0.67"/><circle cx="426.0" cy="680.9" r="0.87" fill="rgb(206,11,33)" opacity="0.81"/><circle cx="413.6" cy="642.5" r="0.75" fill="rgb(209,33,40)" opacity="0.76"/><circle cx="490.2" cy="702.9" r="0.73" fill="rgb(218,25,29)" opacity="0.86"/><circle cx="382.7" cy="630.8" r="0.97" fill="rgb(159,20,21)" opacity="0.65"/><circle cx="492.8" cy="626.2" r="0.74" fill="rgb(181,8,28)" opacity="0.51"/><circle cx="495.0" cy="635.9" r="0.56" fill="rgb(235,17,29)" opacity="0.54"/><circle cx="468.8" cy="663.4" r="0.74" fill="rgb(167,13,37)" opacity="0.95"/><circle cx="372.7" cy="657.8" r="0.84" fill="rgb(181,12,35)" opacity="0.85"/><circle cx="486.6" cy="661.4" r="0.72" fill="rgb(232,23,22)" opacity="0.82"/><circle cx="507.1" cy="671.9" r="0.78" fill="rgb(233,41,37)" opacity="0.84"/><circle cx="500.4" cy="603.0" r="1.05" fill="rgb(190,17,44)" opacity="0.70"/><circle cx="483.2" cy="670.0" r="0.78" fill="rgb(237,15,21)" opacity="0.51"/><circle cx="429.2" cy="640.8" r="0.84" fill="rgb(183,29,37)" opacity="0.61"/><circle cx="398.7" cy="651.4" r="0.85" fill="rgb(204,24,28)" opacity="0.95"/><circle cx="381.0" cy="630.6" r="0.97" fill="rgb(154,8,24)" opacity="0.81"/><circle cx="439.8" cy="636.0" r="0.95" fill="rgb(182,10,36)" opacity="0.77"/><circle cx="516.7" cy="686.9" r="1.01" fill="rgb(227,35,29)" opacity="0.87"/><circle cx="411.5" cy="625.4" r="1.01" fill="rgb(202,18,35)" opacity="0.76"/><circle cx="468.0" cy="711.9" r="0.95" fill="rgb(174,27,19)" opacity="0.51"/><circle cx="458.1" cy="692.4" r="0.81" fill="rgb(180,13,35)" opacity="0.77"/><circle cx="480.8" cy="712.6" r="0.95" fill="rgb(192,19,27)" opacity="0.58"/><circle cx="357.1" cy="629.8" r="0.84" fill="rgb(158,13,29)" opacity="0.55"/><circle cx="484.7" cy="653.5" r="1.02" fill="rgb(222,39,26)" opacity="0.86"/><circle cx="393.7" cy="619.5" r="0.67" fill="rgb(158,22,32)" opacity="0.81"/><circle cx="478.6" cy="626.7" r="0.96" fill="rgb(171,24,27)" opacity="0.57"/><circle cx="416.8" cy="645.8" r="0.91" fill="rgb(176,13,36)" opacity="0.85"/><circle cx="438.0" cy="679.0" r="0.92" fill="rgb(180,15,24)" opacity="0.60"/><circle cx="402.3" cy="623.6" r="1.01" fill="rgb(204,23,30)" opacity="0.92"/><circle cx="390.4" cy="620.4" r="0.77" fill="rgb(191,29,22)" opacity="0.95"/><circle cx="429.2" cy="636.9" r="0.87" fill="rgb(229,23,23)" opacity="0.83"/><circle cx="505.7" cy="673.8" r="0.78" fill="rgb(192,16,30)" opacity="0.91"/><circle cx="384.3" cy="635.9" r="0.87" fill="rgb(198,35,46)" opacity="0.66"/><circle cx="417.6" cy="632.7" r="0.82" fill="rgb(161,24,28)" opacity="0.69"/><circle cx="389.3" cy="627.9" r="0.65" fill="rgb(186,33,32)" opacity="0.52"/><circle cx="373.5" cy="632.0" r="0.77" fill="rgb(228,17,50)" opacity="0.74"/><circle cx="438.2" cy="591.7" r="1.01" fill="rgb(207,31,30)" opacity="0.87"/><circle cx="459.2" cy="615.8" r="0.86" fill="rgb(189,8,38)" opacity="0.63"/><circle cx="423.1" cy="617.0" r="0.91" fill="rgb(162,22,26)" opacity="0.66"/><circle cx="485.6" cy="665.2" r="1.04" fill="rgb(181,21,22)" opacity="0.80"/><circle cx="438.1" cy="671.0" r="0.56" fill="rgb(175,13,37)" opacity="0.70"/><circle cx="440.3" cy="637.6" r="0.83" fill="rgb(174,12,35)" opacity="0.84"/><circle cx="383.7" cy="648.8" r="0.87" fill="rgb(169,21,33)" opacity="0.70"/><circle cx="472.8" cy="675.0" r="0.65" fill="rgb(194,25,39)" opacity="0.64"/><circle cx="472.2" cy="662.8" r="0.62" fill="rgb(213,12,44)" opacity="0.54"/><circle cx="389.5" cy="654.5" r="0.92" fill="rgb(228,46,29)" opacity="0.81"/><circle cx="401.5" cy="612.4" r="0.70" fill="rgb(229,8,52)" opacity="0.51"/><circle cx="501.6" cy="622.2" r="0.64" fill="rgb(156,13,19)" opacity="0.61"/><circle cx="446.1" cy="645.3" r="0.72" fill="rgb(193,30,38)" opacity="0.91"/><circle cx="482.9" cy="660.7" r="0.85" fill="rgb(175,11,38)" opacity="0.54"/><circle cx="506.1" cy="704.0" r="0.97" fill="rgb(210,16,36)" opacity="0.66"/><circle cx="432.2" cy="674.5" r="0.64" fill="rgb(203,21,49)" opacity="0.82"/><circle cx="371.8" cy="656.3" r="0.98" fill="rgb(219,11,41)" opacity="0.56"/><circle cx="507.3" cy="630.9" r="1.00" fill="rgb(235,22,60)" opacity="0.59"/><circle cx="440.4" cy="711.2" r="0.85" fill="rgb(224,38,47)" opacity="0.54"/><circle cx="471.1" cy="628.2" r="1.02" fill="rgb(182,26,19)" opacity="0.67"/><circle cx="398.1" cy="658.5" r="0.89" fill="rgb(190,10,41)" opacity="0.69"/><circle cx="518.1" cy="684.4" r="0.84" fill="rgb(159,23,29)" opacity="0.56"/><circle cx="417.5" cy="711.9" r="0.60" fill="rgb(183,9,43)" opacity="0.93"/><circle cx="491.5" cy="683.3" r="0.62" fill="rgb(209,25,34)" opacity="0.73"/><circle cx="418.7" cy="621.4" r="1.00" fill="rgb(187,25,33)" opacity="0.73"/><circle cx="367.4" cy="641.6" r="0.90" fill="rgb(232,28,55)" opacity="0.83"/><circle cx="366.5" cy="614.0" r="0.94" fill="rgb(212,34,40)" opacity="0.73"/><circle cx="459.5" cy="664.3" r="0.76" fill="rgb(215,28,22)" opacity="0.69"/><circle cx="420.8" cy="660.6" r="1.04" fill="rgb(181,18,27)" opacity="0.54"/><circle cx="423.7" cy="664.7" r="1.02" fill="rgb(167,8,35)" opacity="0.63"/><circle cx="426.5" cy="629.1" r="0.68" fill="rgb(229,42,27)" opacity="0.81"/><circle cx="483.8" cy="648.5" r="0.98" fill="rgb(166,23,34)" opacity="0.55"/><circle cx="425.4" cy="605.3" r="0.88" fill="rgb(213,10,46)" opacity="0.71"/><circle cx="445.1" cy="629.2" r="0.72" fill="rgb(221,15,45)" opacity="0.93"/><circle cx="365.2" cy="640.6" r="0.61" fill="rgb(204,19,19)" opacity="0.75"/><circle cx="375.6" cy="626.7" r="0.84" fill="rgb(229,29,28)" opacity="0.62"/><circle cx="481.3" cy="606.8" r="0.65" fill="rgb(185,31,22)" opacity="0.56"/><circle cx="383.0" cy="630.2" r="0.75" fill="rgb(216,22,35)" opacity="0.85"/><circle cx="464.0" cy="636.7" r="0.90" fill="rgb(158,22,24)" opacity="0.71"/><circle cx="437.1" cy="613.5" r="0.55" fill="rgb(176,23,30)" opacity="0.82"/><circle cx="402.5" cy="619.1" r="0.94" fill="rgb(170,15,34)" opacity="0.81"/><circle cx="499.1" cy="673.0" r="0.81" fill="rgb(150,10,21)" opacity="0.87"/><circle cx="447.3" cy="643.1" r="0.57" fill="rgb(238,41,33)" opacity="0.94"/><circle cx="463.9" cy="623.5" r="0.86" fill="rgb(154,23,18)" opacity="0.66"/><circle cx="378.3" cy="644.0" r="0.88" fill="rgb(168,11,30)" opacity="0.73"/><circle cx="500.7" cy="648.3" r="0.62" fill="rgb(223,8,30)" opacity="0.77"/><circle cx="493.2" cy="677.7" r="0.63" fill="rgb(208,35,31)" opacity="0.80"/><circle cx="401.2" cy="603.8" r="0.83" fill="rgb(182,11,27)" opacity="0.75"/><circle cx="415.8" cy="692.4" r="1.01" fill="rgb(175,29,37)" opacity="0.84"/><circle cx="366.3" cy="620.0" r="0.82" fill="rgb(227,21,34)" opacity="0.55"/><circle cx="498.4" cy="628.2" r="0.72" fill="rgb(216,33,31)" opacity="0.57"/><circle cx="404.8" cy="628.7" r="0.90" fill="rgb(214,39,30)" opacity="0.68"/><circle cx="495.0" cy="687.1" r="0.95" fill="rgb(178,14,38)" opacity="0.64"/><circle cx="441.8" cy="657.8" r="0.60" fill="rgb(196,10,45)" opacity="0.56"/><circle cx="465.8" cy="709.8" r="0.63" fill="rgb(147,11,28)" opacity="0.74"/><circle cx="501.8" cy="685.4" r="0.94" fill="rgb(189,15,44)" opacity="0.81"/><circle cx="464.4" cy="645.9" r="0.55" fill="rgb(220,28,54)" opacity="0.90"/><circle cx="371.7" cy="630.9" r="0.87" fill="rgb(222,22,56)" opacity="0.52"/><circle cx="401.7" cy="620.7" r="0.83" fill="rgb(153,21,30)" opacity="0.70"/><circle cx="488.9" cy="596.0" r="1.04" fill="rgb(176,10,27)" opacity="0.88"/><circle cx="511.9" cy="615.5" r="0.81" fill="rgb(148,11,18)" opacity="0.64"/><circle cx="469.6" cy="648.7" r="0.86" fill="rgb(171,8,27)" opacity="0.58"/><circle cx="487.2" cy="651.0" r="0.61" fill="rgb(170,23,38)" opacity="0.50"/><circle cx="407.1" cy="632.5" r="1.00" fill="rgb(156,21,23)" opacity="0.65"/><circle cx="448.0" cy="695.8" r="1.02" fill="rgb(195,29,47)" opacity="0.55"/><circle cx="511.6" cy="619.7" r="0.73" fill="rgb(234,19,42)" opacity="0.76"/><circle cx="409.5" cy="663.4" r="1.01" fill="rgb(211,30,21)" opacity="0.53"/><circle cx="466.5" cy="632.3" r="0.78" fill="rgb(153,22,30)" opacity="0.86"/><circle cx="438.9" cy="662.5" r="0.76" fill="rgb(232,26,25)" opacity="0.77"/><circle cx="420.2" cy="586.4" r="0.95" fill="rgb(211,12,26)" opacity="0.89"/><circle cx="498.5" cy="609.2" r="0.56" fill="rgb(215,29,31)" opacity="0.69"/><circle cx="516.6" cy="629.1" r="0.90" fill="rgb(188,12,28)" opacity="0.65"/><circle cx="483.8" cy="610.5" r="0.60" fill="rgb(203,22,47)" opacity="0.84"/><circle cx="461.9" cy="635.3" r="0.79" fill="rgb(201,32,33)" opacity="0.81"/><circle cx="451.4" cy="642.3" r="1.05" fill="rgb(187,22,42)" opacity="0.75"/><circle cx="381.2" cy="632.0" r="0.92" fill="rgb(152,12,24)" opacity="0.78"/><circle cx="506.9" cy="675.1" r="0.56" fill="rgb(152,8,24)" opacity="0.74"/><circle cx="453.3" cy="658.1" r="0.71" fill="rgb(218,8,27)" opacity="0.90"/><circle cx="451.5" cy="693.6" r="0.76" fill="rgb(217,22,37)" opacity="0.70"/><circle cx="473.3" cy="679.1" r="0.87" fill="rgb(149,19,27)" opacity="0.64"/><circle cx="482.6" cy="691.3" r="0.96" fill="rgb(147,9,29)" opacity="0.73"/><circle cx="506.4" cy="714.1" r="0.72" fill="rgb(215,16,29)" opacity="0.94"/><circle cx="356.4" cy="643.8" r="0.81" fill="rgb(239,30,49)" opacity="0.85"/><circle cx="404.2" cy="641.0" r="0.97" fill="rgb(210,38,28)" opacity="0.83"/><circle cx="445.2" cy="640.3" r="0.61" fill="rgb(153,9,22)" opacity="0.52"/><circle cx="414.3" cy="621.8" r="0.64" fill="rgb(226,33,55)" opacity="0.62"/><circle cx="481.9" cy="634.7" r="0.61" fill="rgb(238,43,23)" opacity="0.60"/><circle cx="459.8" cy="603.4" r="0.74" fill="rgb(190,8,25)" opacity="0.59"/><circle cx="402.1" cy="641.1" r="0.92" fill="rgb(174,8,36)" opacity="0.72"/><circle cx="453.3" cy="636.3" r="1.00" fill="rgb(148,19,29)" opacity="0.53"/><circle cx="386.4" cy="636.8" r="0.69" fill="rgb(219,14,23)" opacity="0.79"/><circle cx="375.3" cy="618.2" r="0.88" fill="rgb(153,13,31)" opacity="0.54"/><circle cx="513.9" cy="687.1" r="0.94" fill="rgb(197,21,25)" opacity="0.60"/><circle cx="468.8" cy="651.1" r="1.05" fill="rgb(210,33,52)" opacity="0.86"/><circle cx="508.7" cy="645.5" r="0.70" fill="rgb(149,14,25)" opacity="0.55"/><circle cx="422.8" cy="632.3" r="0.56" fill="rgb(193,19,21)" opacity="0.75"/><circle cx="513.8" cy="623.4" r="0.95" fill="rgb(174,24,29)" opacity="0.50"/><circle cx="415.1" cy="637.3" r="0.87" fill="rgb(185,23,43)" opacity="0.77"/><circle cx="489.3" cy="630.5" r="0.58" fill="rgb(235,31,43)" opacity="0.84"/><circle cx="504.8" cy="635.1" r="0.79" fill="rgb(229,17,29)" opacity="0.94"/><circle cx="469.3" cy="691.5" r="0.79" fill="rgb(228,22,51)" opacity="0.90"/><circle cx="428.7" cy="620.3" r="0.99" fill="rgb(190,9,22)" opacity="0.76"/><circle cx="505.5" cy="682.2" r="0.85" fill="rgb(201,35,48)" opacity="0.52"/><circle cx="496.8" cy="607.9" r="0.78" fill="rgb(158,16,27)" opacity="0.71"/><circle cx="505.6" cy="717.0" r="0.92" fill="rgb(180,19,24)" opacity="0.91"/><circle cx="499.8" cy="646.0" r="0.64" fill="rgb(187,21,38)" opacity="0.63"/><circle cx="385.4" cy="592.3" r="0.73" fill="rgb(153,13,32)" opacity="0.82"/><circle cx="366.8" cy="600.1" r="1.03" fill="rgb(169,21,37)" opacity="0.89"/><circle cx="366.5" cy="614.7" r="0.56" fill="rgb(201,27,45)" opacity="0.50"/></g>
<g filter="url(#bl1)"><circle cx="418.0" cy="652.5" r="0.48" fill="#8a9a88" opacity="0.36"/><circle cx="356.0" cy="698.2" r="0.67" fill="#8a9a88" opacity="0.28"/><circle cx="391.8" cy="630.5" r="0.58" fill="#8a9a88" opacity="0.29"/><circle cx="403.5" cy="674.5" r="0.43" fill="#8a9a88" opacity="0.18"/><circle cx="395.0" cy="636.8" r="0.43" fill="#8a9a88" opacity="0.19"/><circle cx="405.3" cy="677.0" r="0.51" fill="#8a9a88" opacity="0.39"/><circle cx="389.8" cy="650.5" r="0.57" fill="#8a9a88" opacity="0.36"/><circle cx="374.5" cy="667.4" r="0.57" fill="#8a9a88" opacity="0.40"/><circle cx="394.0" cy="645.6" r="0.57" fill="#8a9a88" opacity="0.21"/><circle cx="382.1" cy="691.3" r="0.41" fill="#8a9a88" opacity="0.26"/><circle cx="370.6" cy="681.5" r="0.65" fill="#8a9a88" opacity="0.25"/><circle cx="393.3" cy="654.8" r="0.48" fill="#8a9a88" opacity="0.26"/><circle cx="386.3" cy="649.2" r="0.63" fill="#8a9a88" opacity="0.26"/><circle cx="373.6" cy="651.8" r="0.65" fill="#8a9a88" opacity="0.37"/><circle cx="415.5" cy="651.3" r="0.42" fill="#8a9a88" opacity="0.30"/><circle cx="349.8" cy="703.6" r="0.60" fill="#8a9a88" opacity="0.21"/><circle cx="379.8" cy="688.7" r="0.45" fill="#8a9a88" opacity="0.22"/><circle cx="404.7" cy="688.5" r="0.58" fill="#8a9a88" opacity="0.15"/><circle cx="363.6" cy="652.1" r="0.41" fill="#8a9a88" opacity="0.30"/><circle cx="389.2" cy="709.5" r="0.57" fill="#8a9a88" opacity="0.38"/><circle cx="381.8" cy="674.5" r="0.48" fill="#8a9a88" opacity="0.25"/><circle cx="415.5" cy="671.9" r="0.40" fill="#8a9a88" opacity="0.22"/><circle cx="362.2" cy="683.6" r="0.55" fill="#8a9a88" opacity="0.25"/><circle cx="414.8" cy="695.6" r="0.43" fill="#8a9a88" opacity="0.13"/><circle cx="398.5" cy="681.3" r="0.60" fill="#8a9a88" opacity="0.26"/><circle cx="350.6" cy="668.8" r="0.65" fill="#8a9a88" opacity="0.29"/><circle cx="351.2" cy="640.7" r="0.67" fill="#8a9a88" opacity="0.27"/><circle cx="359.8" cy="690.8" r="0.68" fill="#8a9a88" opacity="0.36"/><circle cx="394.5" cy="699.4" r="0.43" fill="#8a9a88" opacity="0.25"/><circle cx="406.3" cy="659.4" r="0.44" fill="#8a9a88" opacity="0.36"/><circle cx="398.7" cy="630.6" r="0.42" fill="#8a9a88" opacity="0.28"/><circle cx="416.7" cy="683.1" r="0.66" fill="#8a9a88" opacity="0.15"/><circle cx="389.5" cy="645.6" r="0.50" fill="#8a9a88" opacity="0.16"/><circle cx="381.4" cy="634.0" r="0.60" fill="#8a9a88" opacity="0.30"/><circle cx="413.1" cy="696.1" r="0.42" fill="#8a9a88" opacity="0.36"/><circle cx="387.1" cy="710.5" r="0.55" fill="#8a9a88" opacity="0.14"/><circle cx="398.7" cy="644.9" r="0.70" fill="#8a9a88" opacity="0.27"/><circle cx="413.0" cy="672.4" r="0.50" fill="#8a9a88" opacity="0.31"/><circle cx="399.1" cy="669.6" r="0.48" fill="#8a9a88" opacity="0.24"/><circle cx="399.5" cy="649.6" r="0.45" fill="#8a9a88" opacity="0.26"/><circle cx="395.4" cy="635.7" r="0.48" fill="#8a9a88" opacity="0.39"/><circle cx="367.2" cy="696.4" r="0.49" fill="#8a9a88" opacity="0.14"/><circle cx="383.0" cy="704.8" r="0.63" fill="#8a9a88" opacity="0.13"/><circle cx="398.6" cy="683.4" r="0.54" fill="#8a9a88" opacity="0.31"/><circle cx="385.6" cy="645.7" r="0.61" fill="#8a9a88" opacity="0.16"/><circle cx="370.3" cy="703.2" r="0.57" fill="#8a9a88" opacity="0.26"/><circle cx="399.1" cy="672.4" r="0.52" fill="#8a9a88" opacity="0.27"/><circle cx="349.6" cy="660.2" r="0.41" fill="#8a9a88" opacity="0.40"/><circle cx="413.4" cy="686.2" r="0.45" fill="#8a9a88" opacity="0.36"/><circle cx="368.4" cy="699.2" r="0.60" fill="#8a9a88" opacity="0.29"/></g>
<path d="M400.4 667.5 C399.5 672 394 675 388 679 C381 684 375.5 690 374 697 C372.8 704 375 711 379 716 C381 718.5 383 720 385 721 H414 C418 717 422 712 424.5 706 C427 700 427 694 424.5 690 C421 685 414 682.5 408 679.5 C403.5 677 401 672.5 400.4 667.5Z" fill="#040201"/>
<path d="M401.5 670 C403.5 676 409 679.5 416 683 C420.5 685.5 424 688.5 426 692" stroke="#7cff5a" stroke-width="1.5" fill="none" opacity="0.9" filter="url(#bl1)"/>
<path d="M398.5 671 C395.5 675 389 678 383 683 C379 686.5 376 691 374.5 696" stroke="#2f8a28" stroke-width="0.7" fill="none" opacity="0.7" filter="url(#bl1)"/>
</g>
<text x="391.9" y="700.6" font-size="12.3" fill="#fafafa">aq</text>
<text x="347.6" y="713.6" font-size="12.2" fill="#fafafa">10x</text>
</g>
</svg>
</body></html>
